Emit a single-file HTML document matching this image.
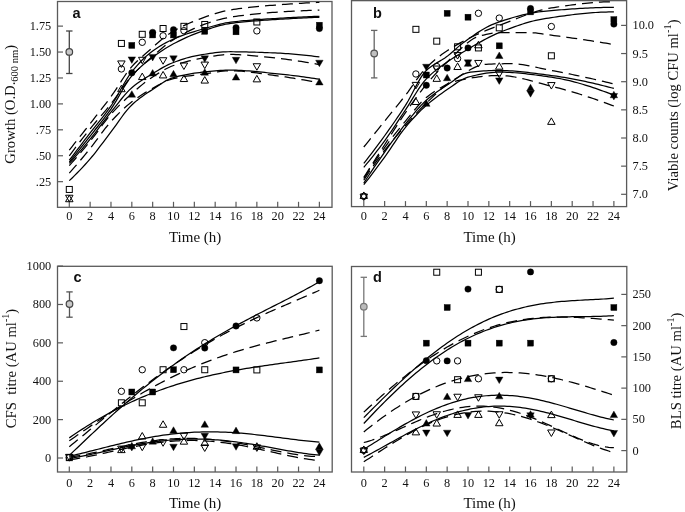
<!DOCTYPE html>
<html><head><meta charset="utf-8"><style>
html,body{margin:0;padding:0;background:#fff;}
body{width:685px;height:512px;overflow:hidden;}
svg{display:block;will-change:transform;}
.tk{font-family:"Liberation Serif",serif;font-size:12.3px;fill:#111;}
.ttl{font-family:"Liberation Serif",serif;font-size:15px;fill:#111;}
.pl{font-family:"Liberation Sans",sans-serif;font-size:14.5px;font-weight:bold;fill:#111;}
</style></head><body>
<svg width="685" height="512" viewBox="0 0 685 512">
<rect x="57.5" y="1.5" width="274.50" height="205.80" fill="none" stroke="#5a5a5a" stroke-width="1.3"/>
<line x1="69.30" y1="207.3" x2="69.30" y2="201.8" stroke="#5a5a5a" stroke-width="1.2"/>
<text x="69.30" y="220" class="tk" text-anchor="middle">0</text>
<line x1="90.14" y1="207.3" x2="90.14" y2="201.8" stroke="#5a5a5a" stroke-width="1.2"/>
<text x="90.14" y="220" class="tk" text-anchor="middle">2</text>
<line x1="110.98" y1="207.3" x2="110.98" y2="201.8" stroke="#5a5a5a" stroke-width="1.2"/>
<text x="110.98" y="220" class="tk" text-anchor="middle">4</text>
<line x1="131.82" y1="207.3" x2="131.82" y2="201.8" stroke="#5a5a5a" stroke-width="1.2"/>
<text x="131.82" y="220" class="tk" text-anchor="middle">6</text>
<line x1="152.66" y1="207.3" x2="152.66" y2="201.8" stroke="#5a5a5a" stroke-width="1.2"/>
<text x="152.66" y="220" class="tk" text-anchor="middle">8</text>
<line x1="173.50" y1="207.3" x2="173.50" y2="201.8" stroke="#5a5a5a" stroke-width="1.2"/>
<text x="173.50" y="220" class="tk" text-anchor="middle">10</text>
<line x1="194.34" y1="207.3" x2="194.34" y2="201.8" stroke="#5a5a5a" stroke-width="1.2"/>
<text x="194.34" y="220" class="tk" text-anchor="middle">12</text>
<line x1="215.18" y1="207.3" x2="215.18" y2="201.8" stroke="#5a5a5a" stroke-width="1.2"/>
<text x="215.18" y="220" class="tk" text-anchor="middle">14</text>
<line x1="236.02" y1="207.3" x2="236.02" y2="201.8" stroke="#5a5a5a" stroke-width="1.2"/>
<text x="236.02" y="220" class="tk" text-anchor="middle">16</text>
<line x1="256.86" y1="207.3" x2="256.86" y2="201.8" stroke="#5a5a5a" stroke-width="1.2"/>
<text x="256.86" y="220" class="tk" text-anchor="middle">18</text>
<line x1="277.70" y1="207.3" x2="277.70" y2="201.8" stroke="#5a5a5a" stroke-width="1.2"/>
<text x="277.70" y="220" class="tk" text-anchor="middle">20</text>
<line x1="298.54" y1="207.3" x2="298.54" y2="201.8" stroke="#5a5a5a" stroke-width="1.2"/>
<text x="298.54" y="220" class="tk" text-anchor="middle">22</text>
<line x1="319.38" y1="207.3" x2="319.38" y2="201.8" stroke="#5a5a5a" stroke-width="1.2"/>
<text x="319.38" y="220" class="tk" text-anchor="middle">24</text>
<line x1="57.5" y1="181.67" x2="63.0" y2="181.67" stroke="#5a5a5a" stroke-width="1.2"/>
<text x="51.2" y="185.67" class="tk" text-anchor="end">.25</text>
<line x1="57.5" y1="155.75" x2="63.0" y2="155.75" stroke="#5a5a5a" stroke-width="1.2"/>
<text x="51.2" y="159.75" class="tk" text-anchor="end">.50</text>
<line x1="57.5" y1="129.82" x2="63.0" y2="129.82" stroke="#5a5a5a" stroke-width="1.2"/>
<text x="51.2" y="133.82" class="tk" text-anchor="end">.75</text>
<line x1="57.5" y1="103.90" x2="63.0" y2="103.90" stroke="#5a5a5a" stroke-width="1.2"/>
<text x="51.2" y="107.90" class="tk" text-anchor="end">1.00</text>
<line x1="57.5" y1="77.97" x2="63.0" y2="77.97" stroke="#5a5a5a" stroke-width="1.2"/>
<text x="51.2" y="81.97" class="tk" text-anchor="end">1.25</text>
<line x1="57.5" y1="52.05" x2="63.0" y2="52.05" stroke="#5a5a5a" stroke-width="1.2"/>
<text x="51.2" y="56.05" class="tk" text-anchor="end">1.50</text>
<line x1="57.5" y1="26.12" x2="63.0" y2="26.12" stroke="#5a5a5a" stroke-width="1.2"/>
<text x="51.2" y="30.12" class="tk" text-anchor="end">1.75</text>
<text x="195.14" y="241.8" class="ttl" text-anchor="middle">Time (h)</text>
<rect x="351.5" y="0.65" width="275.10" height="205.95" fill="none" stroke="#5a5a5a" stroke-width="1.3"/>
<line x1="363.80" y1="206.6" x2="363.80" y2="201.1" stroke="#5a5a5a" stroke-width="1.2"/>
<text x="363.80" y="220" class="tk" text-anchor="middle">0</text>
<line x1="384.64" y1="206.6" x2="384.64" y2="201.1" stroke="#5a5a5a" stroke-width="1.2"/>
<text x="384.64" y="220" class="tk" text-anchor="middle">2</text>
<line x1="405.48" y1="206.6" x2="405.48" y2="201.1" stroke="#5a5a5a" stroke-width="1.2"/>
<text x="405.48" y="220" class="tk" text-anchor="middle">4</text>
<line x1="426.32" y1="206.6" x2="426.32" y2="201.1" stroke="#5a5a5a" stroke-width="1.2"/>
<text x="426.32" y="220" class="tk" text-anchor="middle">6</text>
<line x1="447.16" y1="206.6" x2="447.16" y2="201.1" stroke="#5a5a5a" stroke-width="1.2"/>
<text x="447.16" y="220" class="tk" text-anchor="middle">8</text>
<line x1="468.00" y1="206.6" x2="468.00" y2="201.1" stroke="#5a5a5a" stroke-width="1.2"/>
<text x="468.00" y="220" class="tk" text-anchor="middle">10</text>
<line x1="488.84" y1="206.6" x2="488.84" y2="201.1" stroke="#5a5a5a" stroke-width="1.2"/>
<text x="488.84" y="220" class="tk" text-anchor="middle">12</text>
<line x1="509.68" y1="206.6" x2="509.68" y2="201.1" stroke="#5a5a5a" stroke-width="1.2"/>
<text x="509.68" y="220" class="tk" text-anchor="middle">14</text>
<line x1="530.52" y1="206.6" x2="530.52" y2="201.1" stroke="#5a5a5a" stroke-width="1.2"/>
<text x="530.52" y="220" class="tk" text-anchor="middle">16</text>
<line x1="551.36" y1="206.6" x2="551.36" y2="201.1" stroke="#5a5a5a" stroke-width="1.2"/>
<text x="551.36" y="220" class="tk" text-anchor="middle">18</text>
<line x1="572.20" y1="206.6" x2="572.20" y2="201.1" stroke="#5a5a5a" stroke-width="1.2"/>
<text x="572.20" y="220" class="tk" text-anchor="middle">20</text>
<line x1="593.04" y1="206.6" x2="593.04" y2="201.1" stroke="#5a5a5a" stroke-width="1.2"/>
<text x="593.04" y="220" class="tk" text-anchor="middle">22</text>
<line x1="613.88" y1="206.6" x2="613.88" y2="201.1" stroke="#5a5a5a" stroke-width="1.2"/>
<text x="613.88" y="220" class="tk" text-anchor="middle">24</text>
<line x1="626.6" y1="194.30" x2="621.1" y2="194.30" stroke="#5a5a5a" stroke-width="1.2"/>
<text x="632.5" y="198.30" class="tk" text-anchor="start">7.0</text>
<line x1="626.6" y1="166.15" x2="621.1" y2="166.15" stroke="#5a5a5a" stroke-width="1.2"/>
<text x="632.5" y="170.15" class="tk" text-anchor="start">7.5</text>
<line x1="626.6" y1="138.00" x2="621.1" y2="138.00" stroke="#5a5a5a" stroke-width="1.2"/>
<text x="632.5" y="142.00" class="tk" text-anchor="start">8.0</text>
<line x1="626.6" y1="109.85" x2="621.1" y2="109.85" stroke="#5a5a5a" stroke-width="1.2"/>
<text x="632.5" y="113.85" class="tk" text-anchor="start">8.5</text>
<line x1="626.6" y1="81.70" x2="621.1" y2="81.70" stroke="#5a5a5a" stroke-width="1.2"/>
<text x="632.5" y="85.70" class="tk" text-anchor="start">9.0</text>
<line x1="626.6" y1="53.55" x2="621.1" y2="53.55" stroke="#5a5a5a" stroke-width="1.2"/>
<text x="632.5" y="57.55" class="tk" text-anchor="start">9.5</text>
<line x1="626.6" y1="25.40" x2="621.1" y2="25.40" stroke="#5a5a5a" stroke-width="1.2"/>
<text x="632.5" y="29.40" class="tk" text-anchor="start">10.0</text>
<text x="489.64" y="241.8" class="ttl" text-anchor="middle">Time (h)</text>
<rect x="57.5" y="266.3" width="274.70" height="205.70" fill="none" stroke="#5a5a5a" stroke-width="1.3"/>
<line x1="69.30" y1="472.0" x2="69.30" y2="466.5" stroke="#5a5a5a" stroke-width="1.2"/>
<text x="69.30" y="487.3" class="tk" text-anchor="middle">0</text>
<line x1="90.14" y1="472.0" x2="90.14" y2="466.5" stroke="#5a5a5a" stroke-width="1.2"/>
<text x="90.14" y="487.3" class="tk" text-anchor="middle">2</text>
<line x1="110.98" y1="472.0" x2="110.98" y2="466.5" stroke="#5a5a5a" stroke-width="1.2"/>
<text x="110.98" y="487.3" class="tk" text-anchor="middle">4</text>
<line x1="131.82" y1="472.0" x2="131.82" y2="466.5" stroke="#5a5a5a" stroke-width="1.2"/>
<text x="131.82" y="487.3" class="tk" text-anchor="middle">6</text>
<line x1="152.66" y1="472.0" x2="152.66" y2="466.5" stroke="#5a5a5a" stroke-width="1.2"/>
<text x="152.66" y="487.3" class="tk" text-anchor="middle">8</text>
<line x1="173.50" y1="472.0" x2="173.50" y2="466.5" stroke="#5a5a5a" stroke-width="1.2"/>
<text x="173.50" y="487.3" class="tk" text-anchor="middle">10</text>
<line x1="194.34" y1="472.0" x2="194.34" y2="466.5" stroke="#5a5a5a" stroke-width="1.2"/>
<text x="194.34" y="487.3" class="tk" text-anchor="middle">12</text>
<line x1="215.18" y1="472.0" x2="215.18" y2="466.5" stroke="#5a5a5a" stroke-width="1.2"/>
<text x="215.18" y="487.3" class="tk" text-anchor="middle">14</text>
<line x1="236.02" y1="472.0" x2="236.02" y2="466.5" stroke="#5a5a5a" stroke-width="1.2"/>
<text x="236.02" y="487.3" class="tk" text-anchor="middle">16</text>
<line x1="256.86" y1="472.0" x2="256.86" y2="466.5" stroke="#5a5a5a" stroke-width="1.2"/>
<text x="256.86" y="487.3" class="tk" text-anchor="middle">18</text>
<line x1="277.70" y1="472.0" x2="277.70" y2="466.5" stroke="#5a5a5a" stroke-width="1.2"/>
<text x="277.70" y="487.3" class="tk" text-anchor="middle">20</text>
<line x1="298.54" y1="472.0" x2="298.54" y2="466.5" stroke="#5a5a5a" stroke-width="1.2"/>
<text x="298.54" y="487.3" class="tk" text-anchor="middle">22</text>
<line x1="319.38" y1="472.0" x2="319.38" y2="466.5" stroke="#5a5a5a" stroke-width="1.2"/>
<text x="319.38" y="487.3" class="tk" text-anchor="middle">24</text>
<line x1="57.5" y1="458.00" x2="63.0" y2="458.00" stroke="#5a5a5a" stroke-width="1.2"/>
<text x="51.2" y="462.00" class="tk" text-anchor="end">0</text>
<line x1="57.5" y1="419.62" x2="63.0" y2="419.62" stroke="#5a5a5a" stroke-width="1.2"/>
<text x="51.2" y="423.62" class="tk" text-anchor="end">200</text>
<line x1="57.5" y1="381.24" x2="63.0" y2="381.24" stroke="#5a5a5a" stroke-width="1.2"/>
<text x="51.2" y="385.24" class="tk" text-anchor="end">400</text>
<line x1="57.5" y1="342.86" x2="63.0" y2="342.86" stroke="#5a5a5a" stroke-width="1.2"/>
<text x="51.2" y="346.86" class="tk" text-anchor="end">600</text>
<line x1="57.5" y1="304.48" x2="63.0" y2="304.48" stroke="#5a5a5a" stroke-width="1.2"/>
<text x="51.2" y="308.48" class="tk" text-anchor="end">800</text>
<line x1="57.5" y1="266.10" x2="63.0" y2="266.10" stroke="#5a5a5a" stroke-width="1.2"/>
<text x="51.2" y="270.10" class="tk" text-anchor="end">1000</text>
<text x="195.14" y="507.5" class="ttl" text-anchor="middle">Time (h)</text>
<rect x="351.5" y="266.5" width="275.30" height="205.50" fill="none" stroke="#5a5a5a" stroke-width="1.3"/>
<line x1="363.80" y1="472.0" x2="363.80" y2="466.5" stroke="#5a5a5a" stroke-width="1.2"/>
<text x="363.80" y="487.3" class="tk" text-anchor="middle">0</text>
<line x1="384.64" y1="472.0" x2="384.64" y2="466.5" stroke="#5a5a5a" stroke-width="1.2"/>
<text x="384.64" y="487.3" class="tk" text-anchor="middle">2</text>
<line x1="405.48" y1="472.0" x2="405.48" y2="466.5" stroke="#5a5a5a" stroke-width="1.2"/>
<text x="405.48" y="487.3" class="tk" text-anchor="middle">4</text>
<line x1="426.32" y1="472.0" x2="426.32" y2="466.5" stroke="#5a5a5a" stroke-width="1.2"/>
<text x="426.32" y="487.3" class="tk" text-anchor="middle">6</text>
<line x1="447.16" y1="472.0" x2="447.16" y2="466.5" stroke="#5a5a5a" stroke-width="1.2"/>
<text x="447.16" y="487.3" class="tk" text-anchor="middle">8</text>
<line x1="468.00" y1="472.0" x2="468.00" y2="466.5" stroke="#5a5a5a" stroke-width="1.2"/>
<text x="468.00" y="487.3" class="tk" text-anchor="middle">10</text>
<line x1="488.84" y1="472.0" x2="488.84" y2="466.5" stroke="#5a5a5a" stroke-width="1.2"/>
<text x="488.84" y="487.3" class="tk" text-anchor="middle">12</text>
<line x1="509.68" y1="472.0" x2="509.68" y2="466.5" stroke="#5a5a5a" stroke-width="1.2"/>
<text x="509.68" y="487.3" class="tk" text-anchor="middle">14</text>
<line x1="530.52" y1="472.0" x2="530.52" y2="466.5" stroke="#5a5a5a" stroke-width="1.2"/>
<text x="530.52" y="487.3" class="tk" text-anchor="middle">16</text>
<line x1="551.36" y1="472.0" x2="551.36" y2="466.5" stroke="#5a5a5a" stroke-width="1.2"/>
<text x="551.36" y="487.3" class="tk" text-anchor="middle">18</text>
<line x1="572.20" y1="472.0" x2="572.20" y2="466.5" stroke="#5a5a5a" stroke-width="1.2"/>
<text x="572.20" y="487.3" class="tk" text-anchor="middle">20</text>
<line x1="593.04" y1="472.0" x2="593.04" y2="466.5" stroke="#5a5a5a" stroke-width="1.2"/>
<text x="593.04" y="487.3" class="tk" text-anchor="middle">22</text>
<line x1="613.88" y1="472.0" x2="613.88" y2="466.5" stroke="#5a5a5a" stroke-width="1.2"/>
<text x="613.88" y="487.3" class="tk" text-anchor="middle">24</text>
<line x1="626.8" y1="450.60" x2="621.3" y2="450.60" stroke="#5a5a5a" stroke-width="1.2"/>
<text x="632.5" y="454.60" class="tk" text-anchor="start">0</text>
<line x1="626.8" y1="419.36" x2="621.3" y2="419.36" stroke="#5a5a5a" stroke-width="1.2"/>
<text x="632.5" y="423.36" class="tk" text-anchor="start">50</text>
<line x1="626.8" y1="388.12" x2="621.3" y2="388.12" stroke="#5a5a5a" stroke-width="1.2"/>
<text x="632.5" y="392.12" class="tk" text-anchor="start">100</text>
<line x1="626.8" y1="356.88" x2="621.3" y2="356.88" stroke="#5a5a5a" stroke-width="1.2"/>
<text x="632.5" y="360.88" class="tk" text-anchor="start">150</text>
<line x1="626.8" y1="325.64" x2="621.3" y2="325.64" stroke="#5a5a5a" stroke-width="1.2"/>
<text x="632.5" y="329.64" class="tk" text-anchor="start">200</text>
<line x1="626.8" y1="294.40" x2="621.3" y2="294.40" stroke="#5a5a5a" stroke-width="1.2"/>
<text x="632.5" y="298.40" class="tk" text-anchor="start">250</text>
<text x="489.64" y="507.5" class="ttl" text-anchor="middle">Time (h)</text>
<text transform="translate(14.8,104.3) rotate(-90)" class="ttl" text-anchor="middle" style="font-size:14.7px">Growth (O.D.<tspan font-size="10.5" dy="3.5">600 nm</tspan><tspan dy="-3.5">)</tspan></text>
<text transform="translate(678.4,105.3) rotate(-90)" class="ttl" text-anchor="middle" style="font-size:14.6px">Viable counts (log CFU ml<tspan font-size="10.5" dy="-7">-1</tspan><tspan dy="7">)</tspan></text>
<text transform="translate(16.3,368.5) rotate(-90)" class="ttl" text-anchor="middle" style="font-size:14.7px">CFS&#160; titre (AU ml<tspan font-size="10" dy="-7">-1</tspan><tspan dy="7">)</tspan></text>
<text transform="translate(680.9,370.9) rotate(-90)" class="ttl" text-anchor="middle" style="font-size:14.7px">BLS titre (AU ml<tspan font-size="10" dy="-7">-1</tspan><tspan dy="7">)</tspan></text>
<defs>
<clipPath id="ca"><rect x="57.5" y="1.5" width="274.5" height="205.8"/></clipPath>
<clipPath id="cb"><rect x="351.5" y="0.65" width="275.1" height="205.95"/></clipPath>
<clipPath id="cc"><rect x="57.5" y="266.3" width="274.7" height="205.7"/></clipPath>
<clipPath id="cd"><rect x="351.5" y="266.5" width="275.29999999999995" height="205.5"/></clipPath>
</defs>
<path d="M69.30,150.05 L71.91,146.77 L74.51,143.48 L77.11,140.19 L79.72,136.89 L82.33,133.58 L84.93,130.26 L87.53,126.94 L90.14,123.60 L92.75,120.28 L95.35,116.97 L97.95,113.66 L100.56,110.34 L103.16,106.99 L105.77,103.60 L108.38,100.16 L110.98,96.64 L113.58,92.95 L116.19,89.04 L118.79,85.01 L121.40,80.96 L124.00,77.00 L126.61,73.21 L129.22,69.70 L131.82,66.57 L134.43,63.79 L137.03,61.23 L139.63,58.83 L142.24,56.55 L144.84,54.31 L147.45,52.05 L150.06,49.74 L152.66,47.41 L155.26,45.08 L157.87,42.78 L160.47,40.53 L163.08,38.37 L165.69,36.32 L168.29,34.41 L170.89,32.67 L173.50,31.09 L176.10,29.60 L178.71,28.18 L181.31,26.85 L183.92,25.58 L186.52,24.39 L189.13,23.26 L191.74,22.18 L194.34,21.15 L196.94,20.13 L199.55,19.11 L202.15,18.12 L204.76,17.14 L207.37,16.19 L209.97,15.28 L212.57,14.41 L215.18,13.58 L217.78,12.81 L220.39,12.09 L223.00,11.43 L225.60,10.84 L228.20,10.32 L230.81,9.88 L233.42,9.47 L236.02,9.09 L238.62,8.72 L241.23,8.37 L243.83,8.04 L246.44,7.73 L249.05,7.43 L251.65,7.15 L254.25,6.88 L256.86,6.62 L259.46,6.37 L262.07,6.14 L264.68,5.91 L267.28,5.69 L269.88,5.48 L272.49,5.27 L275.09,5.07 L277.70,4.87 L280.31,4.67 L282.91,4.48 L285.51,4.29 L288.12,4.10 L290.73,3.92 L293.33,3.75 L295.94,3.58 L298.54,3.42 L301.14,3.26 L303.75,3.11 L306.36,2.97 L308.96,2.84 L311.56,2.71 L314.17,2.59 L316.77,2.48 L319.38,2.38" fill="none" stroke="#000" stroke-width="1.25" stroke-dasharray="11 6" clip-path="url(#ca)"/>
<path d="M69.30,155.75 L71.91,152.27 L74.51,148.81 L77.11,145.39 L79.72,142.00 L82.33,138.65 L84.93,135.33 L87.53,132.04 L90.14,128.79 L92.75,125.60 L95.35,122.49 L97.95,119.44 L100.56,116.40 L103.16,113.36 L105.77,110.28 L108.38,107.14 L110.98,103.90 L113.58,100.49 L116.19,96.90 L118.79,93.21 L121.40,89.50 L124.00,85.83 L126.61,82.29 L129.22,78.96 L131.82,75.90 L134.43,73.09 L137.03,70.41 L139.63,67.86 L142.24,65.41 L144.84,63.04 L147.45,60.73 L150.06,58.45 L152.66,56.20 L155.26,53.94 L157.87,51.67 L160.47,49.43 L163.08,47.25 L165.69,45.15 L168.29,43.15 L170.89,41.30 L173.50,39.61 L176.10,38.03 L178.71,36.50 L181.31,35.02 L183.92,33.59 L186.52,32.21 L189.13,30.88 L191.74,29.61 L194.34,28.40 L196.94,27.25 L199.55,26.15 L202.15,25.12 L204.76,24.16 L207.37,23.25 L209.97,22.39 L212.57,21.56 L215.18,20.76 L217.78,20.01 L220.39,19.31 L223.00,18.66 L225.60,18.09 L228.20,17.58 L230.81,17.14 L233.42,16.74 L236.02,16.35 L238.62,15.98 L241.23,15.62 L243.83,15.29 L246.44,14.96 L249.05,14.66 L251.65,14.36 L254.25,14.08 L256.86,13.82 L259.46,13.57 L262.07,13.33 L264.68,13.10 L267.28,12.88 L269.88,12.68 L272.49,12.48 L275.09,12.30 L277.70,12.13 L280.31,11.96 L282.91,11.79 L285.51,11.63 L288.12,11.47 L290.73,11.32 L293.33,11.17 L295.94,11.03 L298.54,10.90 L301.14,10.77 L303.75,10.66 L306.36,10.55 L308.96,10.45 L311.56,10.36 L314.17,10.28 L316.77,10.21 L319.38,10.16" fill="none" stroke="#000" stroke-width="1.25" stroke-dasharray="11 6" clip-path="url(#ca)"/>
<path d="M69.30,160.21 L71.91,156.78 L74.51,153.36 L77.11,149.95 L79.72,146.53 L82.33,143.13 L84.93,139.72 L87.53,136.33 L90.14,132.94 L92.75,129.59 L95.35,126.32 L97.95,123.08 L100.56,119.84 L103.16,116.54 L105.77,113.16 L108.38,109.65 L110.98,105.97 L113.58,101.97 L116.19,97.60 L118.79,93.00 L121.40,88.32 L124.00,83.71 L126.61,79.32 L129.22,75.28 L131.82,71.75 L134.43,68.60 L137.03,65.58 L139.63,62.73 L142.24,60.03 L144.84,57.51 L147.45,55.15 L150.06,52.99 L152.66,51.01 L155.26,49.19 L157.87,47.46 L160.47,45.84 L163.08,44.31 L165.69,42.87 L168.29,41.52 L170.89,40.25 L173.50,39.05 L176.10,37.94 L178.71,36.88 L181.31,35.88 L183.92,34.94 L186.52,34.03 L189.13,33.17 L191.74,32.34 L194.34,31.53 L196.94,30.76 L199.55,30.00 L202.15,29.25 L204.76,28.51 L207.37,27.76 L209.97,27.00 L212.57,26.24 L215.18,25.50 L217.78,24.78 L220.39,24.11 L223.00,23.50 L225.60,22.96 L228.20,22.51 L230.81,22.15 L233.42,21.83 L236.02,21.53 L238.62,21.25 L241.23,20.98 L243.83,20.73 L246.44,20.50 L249.05,20.28 L251.65,20.07 L254.25,19.87 L256.86,19.68 L259.46,19.50 L262.07,19.32 L264.68,19.15 L267.28,18.99 L269.88,18.83 L272.49,18.67 L275.09,18.51 L277.70,18.35 L280.31,18.19 L282.91,18.03 L285.51,17.88 L288.12,17.73 L290.73,17.58 L293.33,17.44 L295.94,17.30 L298.54,17.17 L301.14,17.04 L303.75,16.92 L306.36,16.80 L308.96,16.68 L311.56,16.57 L314.17,16.47 L316.77,16.37 L319.38,16.27" fill="none" stroke="#000" stroke-width="1.25" clip-path="url(#ca)"/>
<path d="M69.30,161.97 L71.91,158.79 L74.51,155.59 L77.11,152.37 L79.72,149.14 L82.33,145.89 L84.93,142.62 L87.53,139.34 L90.14,136.05 L92.75,132.77 L95.35,129.51 L97.95,126.26 L100.56,122.98 L103.16,119.65 L105.77,116.24 L108.38,112.73 L110.98,109.08 L113.58,105.14 L116.19,100.84 L118.79,96.33 L121.40,91.76 L124.00,87.29 L126.61,83.05 L129.22,79.21 L131.82,75.90 L134.43,73.02 L137.03,70.35 L139.63,67.86 L142.24,65.52 L144.84,63.31 L147.45,61.21 L150.06,59.19 L152.66,57.23 L155.26,55.33 L157.87,53.48 L160.47,51.70 L163.08,49.98 L165.69,48.34 L168.29,46.76 L170.89,45.25 L173.50,43.81 L176.10,42.45 L178.71,41.14 L181.31,39.86 L183.92,38.62 L186.52,37.43 L189.13,36.27 L191.74,35.16 L194.34,34.09 L196.94,33.06 L199.55,32.08 L202.15,31.15 L204.76,30.27 L207.37,29.42 L209.97,28.56 L212.57,27.73 L215.18,26.92 L217.78,26.16 L220.39,25.45 L223.00,24.81 L225.60,24.24 L228.20,23.77 L230.81,23.39 L233.42,23.05 L236.02,22.73 L238.62,22.43 L241.23,22.15 L243.83,21.88 L246.44,21.63 L249.05,21.40 L251.65,21.17 L254.25,20.96 L256.86,20.76 L259.46,20.57 L262.07,20.39 L264.68,20.21 L267.28,20.04 L269.88,19.88 L272.49,19.71 L275.09,19.55 L277.70,19.38 L280.31,19.22 L282.91,19.06 L285.51,18.91 L288.12,18.76 L290.73,18.61 L293.33,18.46 L295.94,18.33 L298.54,18.19 L301.14,18.06 L303.75,17.94 L306.36,17.82 L308.96,17.70 L311.56,17.60 L314.17,17.49 L316.77,17.40 L319.38,17.31" fill="none" stroke="#000" stroke-width="1.25" clip-path="url(#ca)"/>
<path d="M69.30,163.42 L71.91,160.54 L74.51,157.61 L77.11,154.63 L79.72,151.62 L82.33,148.56 L84.93,145.47 L87.53,142.33 L90.14,139.16 L92.75,135.91 L95.35,132.56 L97.95,129.14 L100.56,125.69 L103.16,122.24 L105.77,118.82 L108.38,115.46 L110.98,112.20 L113.58,108.93 L116.19,105.60 L118.79,102.27 L121.40,98.99 L124.00,95.83 L126.61,92.86 L129.22,90.14 L131.82,87.72 L134.43,85.58 L137.03,83.59 L139.63,81.74 L142.24,80.01 L144.84,78.35 L147.45,76.75 L150.06,75.18 L152.66,73.62 L155.26,72.04 L157.87,70.46 L160.47,68.90 L163.08,67.41 L165.69,65.99 L168.29,64.68 L170.89,63.51 L173.50,62.48 L176.10,61.49 L178.71,60.55 L181.31,59.65 L183.92,58.80 L186.52,58.01 L189.13,57.29 L191.74,56.64 L194.34,56.07 L196.94,55.58 L199.55,55.13 L202.15,54.68 L204.76,54.25 L207.37,53.83 L209.97,53.43 L212.57,53.06 L215.18,52.72 L217.78,52.42 L220.39,52.17 L223.00,51.97 L225.60,51.83 L228.20,51.75 L230.81,51.74 L233.42,51.75 L236.02,51.77 L238.62,51.80 L241.23,51.84 L243.83,51.89 L246.44,51.95 L249.05,52.02 L251.65,52.09 L254.25,52.17 L256.86,52.25 L259.46,52.34 L262.07,52.44 L264.68,52.54 L267.28,52.65 L269.88,52.75 L272.49,52.86 L275.09,52.97 L277.70,53.09 L280.31,53.21 L282.91,53.36 L285.51,53.52 L288.12,53.70 L290.73,53.90 L293.33,54.12 L295.94,54.35 L298.54,54.60 L301.14,54.86 L303.75,55.13 L306.36,55.41 L308.96,55.70 L311.56,55.99 L314.17,56.30 L316.77,56.61 L319.38,56.92" fill="none" stroke="#000" stroke-width="1.25" clip-path="url(#ca)"/>
<path d="M69.30,165.60 L71.91,162.70 L74.51,159.75 L77.11,156.76 L79.72,153.73 L82.33,150.66 L84.93,147.56 L87.53,144.41 L90.14,141.23 L92.75,137.94 L95.35,134.52 L97.95,131.01 L100.56,127.48 L103.16,123.99 L105.77,120.58 L108.38,117.32 L110.98,114.27 L113.58,111.39 L116.19,108.60 L118.79,105.89 L121.40,103.27 L124.00,100.73 L126.61,98.26 L129.22,95.86 L131.82,93.53 L134.43,91.24 L137.03,88.98 L139.63,86.77 L142.24,84.62 L144.84,82.55 L147.45,80.57 L150.06,78.69 L152.66,76.94 L155.26,75.25 L157.87,73.60 L160.47,71.99 L163.08,70.46 L165.69,69.02 L168.29,67.71 L170.89,66.54 L173.50,65.53 L176.10,64.64 L178.71,63.81 L181.31,63.02 L183.92,62.29 L186.52,61.59 L189.13,60.94 L191.74,60.33 L194.34,59.75 L196.94,59.21 L199.55,58.69 L202.15,58.21 L204.76,57.75 L207.37,57.30 L209.97,56.82 L212.57,56.35 L215.18,55.90 L217.78,55.48 L220.39,55.11 L223.00,54.80 L225.60,54.58 L228.20,54.46 L230.81,54.44 L233.42,54.47 L236.02,54.54 L238.62,54.64 L241.23,54.77 L243.83,54.92 L246.44,55.11 L249.05,55.31 L251.65,55.53 L254.25,55.77 L256.86,56.02 L259.46,56.29 L262.07,56.56 L264.68,56.85 L267.28,57.13 L269.88,57.42 L272.49,57.71 L275.09,57.99 L277.70,58.27 L280.31,58.56 L282.91,58.86 L285.51,59.18 L288.12,59.52 L290.73,59.87 L293.33,60.24 L295.94,60.62 L298.54,61.02 L301.14,61.43 L303.75,61.85 L306.36,62.29 L308.96,62.73 L311.56,63.18 L314.17,63.65 L316.77,64.12 L319.38,64.60" fill="none" stroke="#000" stroke-width="1.25" stroke-dasharray="11 6" clip-path="url(#ca)"/>
<path d="M69.30,180.64 L71.91,178.20 L74.51,175.67 L77.11,173.06 L79.72,170.36 L82.33,167.59 L84.93,164.75 L87.53,161.84 L90.14,158.86 L92.75,155.77 L95.35,152.52 L97.95,149.17 L100.56,145.74 L103.16,142.26 L105.77,138.77 L108.38,135.31 L110.98,131.90 L113.58,128.43 L116.19,124.81 L118.79,121.14 L121.40,117.50 L124.00,113.97 L126.61,110.64 L129.22,107.60 L131.82,104.94 L134.43,102.58 L137.03,100.39 L139.63,98.35 L142.24,96.43 L144.84,94.60 L147.45,92.85 L150.06,91.14 L152.66,89.46 L155.26,87.79 L157.87,86.06 L160.47,84.28 L163.08,82.53 L165.69,80.90 L168.29,79.48 L170.89,78.35 L173.50,77.55 L176.10,76.84 L178.71,76.19 L181.31,75.58 L183.92,75.03 L186.52,74.52 L189.13,74.05 L191.74,73.63 L194.34,73.24 L196.94,72.88 L199.55,72.55 L202.15,72.24 L204.76,71.96 L207.37,71.69 L209.97,71.41 L212.57,71.14 L215.18,70.89 L217.78,70.66 L220.39,70.46 L223.00,70.29 L225.60,70.17 L228.20,70.11 L230.81,70.10 L233.42,70.13 L236.02,70.20 L238.62,70.30 L241.23,70.43 L243.83,70.58 L246.44,70.76 L249.05,70.97 L251.65,71.19 L254.25,71.42 L256.86,71.67 L259.46,71.93 L262.07,72.20 L264.68,72.47 L267.28,72.75 L269.88,73.03 L272.49,73.30 L275.09,73.57 L277.70,73.83 L280.31,74.09 L282.91,74.36 L285.51,74.65 L288.12,74.94 L290.73,75.25 L293.33,75.57 L295.94,75.90 L298.54,76.23 L301.14,76.58 L303.75,76.94 L306.36,77.30 L308.96,77.67 L311.56,78.05 L314.17,78.43 L316.77,78.82 L319.38,79.22" fill="none" stroke="#000" stroke-width="1.25" clip-path="url(#ca)"/>
<path d="M69.30,173.07 L71.91,170.13 L74.51,167.14 L77.11,164.13 L79.72,161.07 L82.33,157.98 L84.93,154.85 L87.53,151.69 L90.14,148.49 L92.75,145.18 L95.35,141.73 L97.95,138.19 L100.56,134.64 L103.16,131.14 L105.77,127.74 L108.38,124.51 L110.98,121.53 L113.58,118.72 L116.19,116.00 L118.79,113.37 L121.40,110.83 L124.00,108.40 L126.61,106.09 L129.22,103.89 L131.82,101.83 L134.43,99.87 L137.03,98.01 L139.63,96.22 L142.24,94.52 L144.84,92.89 L147.45,91.32 L150.06,89.80 L152.66,88.34 L155.26,86.88 L157.87,85.40 L160.47,83.95 L163.08,82.57 L165.69,81.31 L168.29,80.21 L170.89,79.32 L173.50,78.66 L176.10,78.08 L178.71,77.55 L181.31,77.07 L183.92,76.64 L186.52,76.24 L189.13,75.87 L191.74,75.51 L194.34,75.18 L196.94,74.85 L199.55,74.52 L202.15,74.18 L204.76,73.83 L207.37,73.44 L209.97,73.03 L212.57,72.59 L215.18,72.17 L217.78,71.76 L220.39,71.40 L223.00,71.09 L225.60,70.87 L228.20,70.74 L230.81,70.72 L233.42,70.77 L236.02,70.86 L238.62,71.01 L241.23,71.19 L243.83,71.41 L246.44,71.66 L249.05,71.95 L251.65,72.26 L254.25,72.59 L256.86,72.93 L259.46,73.30 L262.07,73.67 L264.68,74.05 L267.28,74.43 L269.88,74.81 L272.49,75.18 L275.09,75.55 L277.70,75.90 L280.31,76.25 L282.91,76.62 L285.51,76.99 L288.12,77.38 L290.73,77.78 L293.33,78.19 L295.94,78.62 L298.54,79.05 L301.14,79.50 L303.75,79.95 L306.36,80.41 L308.96,80.88 L311.56,81.36 L314.17,81.85 L316.77,82.35 L319.38,82.85" fill="none" stroke="#000" stroke-width="1.25" stroke-dasharray="11 6" clip-path="url(#ca)"/>
<rect x="66.30" y="186.45" width="6.0" height="6.0" fill="none" stroke="#000" stroke-width="1.0"/>
<path d="M65.55,195.22 L73.05,195.22 L69.30,201.72 Z" fill="none" stroke="#000" stroke-width="1.0"/>
<path d="M65.55,201.72 L73.05,201.72 L69.30,195.22 Z" fill="none" stroke="#000" stroke-width="1.0"/>
<rect x="118.40" y="40.44" width="6.0" height="6.0" fill="none" stroke="#000" stroke-width="1.0"/>
<path d="M117.65,60.93 L125.15,60.93 L121.40,67.43 Z" fill="none" stroke="#000" stroke-width="1.0"/>
<circle cx="121.40" cy="68.95" r="3.2" fill="none" stroke="#000" stroke-width="1.0"/>
<path d="M117.65,91.70 L125.15,91.70 L121.40,85.20 Z" fill="none" stroke="#000" stroke-width="1.0"/>
<rect x="128.82" y="42.41" width="6.0" height="6.0" fill="#000" stroke="#000" stroke-width="0.4"/>
<path d="M128.07,56.89 L135.57,56.89 L131.82,63.39 Z" fill="#000" stroke="#000" stroke-width="0.4"/>
<circle cx="131.82" cy="72.79" r="3.2" fill="#000" stroke="#000" stroke-width="0.4"/>
<path d="M128.07,97.19 L135.57,97.19 L131.82,90.69 Z" fill="#000" stroke="#000" stroke-width="0.4"/>
<rect x="139.24" y="31.32" width="6.0" height="6.0" fill="none" stroke="#000" stroke-width="1.0"/>
<circle cx="142.24" cy="42.30" r="3.2" fill="none" stroke="#000" stroke-width="1.0"/>
<path d="M138.49,57.30 L145.99,57.30 L142.24,63.80 Z" fill="none" stroke="#000" stroke-width="1.0"/>
<path d="M138.49,79.57 L145.99,79.57 L142.24,73.07 Z" fill="none" stroke="#000" stroke-width="1.0"/>
<rect x="149.66" y="31.94" width="6.0" height="6.0" fill="#000" stroke="#000" stroke-width="0.4"/>
<circle cx="152.66" cy="32.35" r="3.2" fill="#000" stroke="#000" stroke-width="0.4"/>
<path d="M148.91,54.40 L156.41,54.40 L152.66,60.90 Z" fill="#000" stroke="#000" stroke-width="0.4"/>
<path d="M148.91,76.04 L156.41,76.04 L152.66,69.54 Z" fill="#000" stroke="#000" stroke-width="0.4"/>
<rect x="160.08" y="25.51" width="6.0" height="6.0" fill="none" stroke="#000" stroke-width="1.0"/>
<circle cx="163.08" cy="35.77" r="3.2" fill="none" stroke="#000" stroke-width="1.0"/>
<path d="M159.33,57.72 L166.83,57.72 L163.08,64.22 Z" fill="none" stroke="#000" stroke-width="1.0"/>
<path d="M159.33,77.91 L166.83,77.91 L163.08,71.41 Z" fill="none" stroke="#000" stroke-width="1.0"/>
<circle cx="173.50" cy="29.65" r="3.2" fill="#000" stroke="#000" stroke-width="0.4"/>
<rect x="170.50" y="31.94" width="6.0" height="6.0" fill="#000" stroke="#000" stroke-width="0.4"/>
<path d="M169.75,55.85 L177.25,55.85 L173.50,62.35 Z" fill="#000" stroke="#000" stroke-width="0.4"/>
<path d="M169.75,76.87 L177.25,76.87 L173.50,70.37 Z" fill="#000" stroke="#000" stroke-width="0.4"/>
<rect x="180.92" y="23.33" width="6.0" height="6.0" fill="none" stroke="#000" stroke-width="1.0"/>
<circle cx="183.92" cy="30.69" r="3.2" fill="none" stroke="#000" stroke-width="1.0"/>
<path d="M180.17,63.01 L187.67,63.01 L183.92,69.51 Z" fill="none" stroke="#000" stroke-width="1.0"/>
<path d="M180.17,81.54 L187.67,81.54 L183.92,75.04 Z" fill="none" stroke="#000" stroke-width="1.0"/>
<rect x="201.76" y="21.47" width="6.0" height="6.0" fill="none" stroke="#000" stroke-width="1.0"/>
<rect x="201.76" y="28.31" width="6.0" height="6.0" fill="#000" stroke="#000" stroke-width="0.4"/>
<path d="M201.01,55.85 L208.51,55.85 L204.76,62.35 Z" fill="#000" stroke="#000" stroke-width="0.4"/>
<path d="M201.01,62.07 L208.51,62.07 L204.76,68.57 Z" fill="none" stroke="#000" stroke-width="1.0"/>
<path d="M201.01,75.21 L208.51,75.21 L204.76,68.71 Z" fill="#000" stroke="#000" stroke-width="0.4"/>
<path d="M201.01,83.09 L208.51,83.09 L204.76,76.59 Z" fill="none" stroke="#000" stroke-width="1.0"/>
<circle cx="236.02" cy="27.68" r="3.2" fill="#000" stroke="#000" stroke-width="0.4"/>
<rect x="233.02" y="28.83" width="6.0" height="6.0" fill="#000" stroke="#000" stroke-width="0.4"/>
<path d="M232.27,57.30 L239.77,57.30 L236.02,63.80 Z" fill="#000" stroke="#000" stroke-width="0.4"/>
<path d="M232.27,80.08 L239.77,80.08 L236.02,73.58 Z" fill="#000" stroke="#000" stroke-width="0.4"/>
<rect x="253.86" y="18.98" width="6.0" height="6.0" fill="none" stroke="#000" stroke-width="1.0"/>
<circle cx="256.86" cy="30.90" r="3.2" fill="none" stroke="#000" stroke-width="1.0"/>
<path d="M253.11,63.73 L260.61,63.73 L256.86,70.23 Z" fill="none" stroke="#000" stroke-width="1.0"/>
<path d="M253.11,81.85 L260.61,81.85 L256.86,75.35 Z" fill="none" stroke="#000" stroke-width="1.0"/>
<rect x="316.38" y="22.19" width="6.0" height="6.0" fill="#000" stroke="#000" stroke-width="0.4"/>
<circle cx="319.38" cy="28.51" r="3.2" fill="#000" stroke="#000" stroke-width="0.4"/>
<path d="M315.63,60.21 L323.13,60.21 L319.38,66.71 Z" fill="#000" stroke="#000" stroke-width="0.4"/>
<path d="M315.63,84.96 L323.13,84.96 L319.38,78.46 Z" fill="#000" stroke="#000" stroke-width="0.4"/>
<path d="M363.80,147.01 L366.41,143.77 L369.01,140.53 L371.62,137.30 L374.22,134.06 L376.82,130.82 L379.43,127.58 L382.04,124.35 L384.64,121.11 L387.25,117.88 L389.85,114.67 L392.46,111.47 L395.06,108.26 L397.67,105.04 L400.27,101.80 L402.88,98.53 L405.48,95.21 L408.09,91.76 L410.69,88.13 L413.30,84.41 L415.90,80.70 L418.50,77.07 L421.11,73.63 L423.72,70.45 L426.32,67.62 L428.93,65.08 L431.53,62.68 L434.13,60.42 L436.74,58.27 L439.35,56.24 L441.95,54.32 L444.56,52.48 L447.16,50.73 L449.76,49.06 L452.37,47.44 L454.98,45.88 L457.58,44.38 L460.19,42.92 L462.79,41.51 L465.39,40.15 L468.00,38.83 L470.61,37.54 L473.21,36.28 L475.81,35.05 L478.42,33.85 L481.02,32.67 L483.63,31.54 L486.24,30.45 L488.84,29.40 L491.44,28.37 L494.05,27.36 L496.65,26.37 L499.26,25.40 L501.87,24.42 L504.47,23.42 L507.08,22.40 L509.68,21.36 L512.28,20.33 L514.89,19.29 L517.50,18.26 L520.10,17.24 L522.71,16.24 L525.31,15.26 L527.91,14.31 L530.52,13.40 L533.12,12.52 L535.73,11.69 L538.34,10.90 L540.94,10.18 L543.55,9.51 L546.15,8.92 L548.75,8.39 L551.36,7.95 L553.97,7.54 L556.57,7.14 L559.17,6.75 L561.78,6.36 L564.38,5.98 L566.99,5.61 L569.60,5.25 L572.20,4.90 L574.81,4.56 L577.41,4.24 L580.01,3.93 L582.62,3.64 L585.23,3.36 L587.83,3.10 L590.43,2.86 L593.04,2.64 L595.64,2.44 L598.25,2.27 L600.86,2.11 L603.46,1.99 L606.07,1.89 L608.67,1.81 L611.27,1.77 L613.88,1.75" fill="none" stroke="#000" stroke-width="1.25" stroke-dasharray="11 6" clip-path="url(#cb)"/>
<path d="M363.80,163.34 L366.41,160.04 L369.01,156.70 L371.62,153.31 L374.22,149.88 L376.82,146.41 L379.43,142.90 L382.04,139.34 L384.64,135.75 L387.25,132.12 L389.85,128.45 L392.46,124.75 L395.06,120.99 L397.67,117.18 L400.27,113.31 L402.88,109.37 L405.48,105.35 L408.09,101.01 L410.69,96.26 L413.30,91.30 L415.90,86.34 L418.50,81.57 L421.11,77.19 L423.72,73.42 L426.32,70.44 L428.93,68.13 L431.53,66.16 L434.13,64.43 L436.74,62.86 L439.35,61.36 L441.95,59.83 L444.56,58.20 L447.16,56.37 L449.76,54.29 L452.37,52.05 L454.98,49.72 L457.58,47.39 L460.19,45.14 L462.79,43.06 L465.39,41.17 L468.00,39.31 L470.61,37.46 L473.21,35.64 L475.81,33.86 L478.42,32.14 L481.02,30.50 L483.63,28.94 L486.24,27.47 L488.84,26.12 L491.44,24.90 L494.05,23.82 L496.65,22.87 L499.26,21.95 L501.87,21.06 L504.47,20.19 L507.08,19.35 L509.68,18.54 L512.28,17.76 L514.89,17.01 L517.50,16.29 L520.10,15.61 L522.71,14.97 L525.31,14.37 L527.91,13.81 L530.52,13.29 L533.12,12.81 L535.73,12.38 L538.34,12.00 L540.94,11.66 L543.55,11.38 L546.15,11.13 L548.75,10.88 L551.36,10.65 L553.97,10.41 L556.57,10.19 L559.17,9.97 L561.78,9.75 L564.38,9.54 L566.99,9.34 L569.60,9.15 L572.20,8.96 L574.81,8.79 L577.41,8.62 L580.01,8.46 L582.62,8.31 L585.23,8.17 L587.83,8.04 L590.43,7.92 L593.04,7.81 L595.64,7.71 L598.25,7.63 L600.86,7.56 L603.46,7.49 L606.07,7.45 L608.67,7.41 L611.27,7.39 L613.88,7.38" fill="none" stroke="#000" stroke-width="1.25" clip-path="url(#cb)"/>
<path d="M363.80,167.28 L366.41,164.21 L369.01,161.07 L371.62,157.87 L374.22,154.59 L376.82,151.24 L379.43,147.83 L382.04,144.35 L384.64,140.81 L387.25,137.18 L389.85,133.42 L392.46,129.56 L395.06,125.64 L397.67,121.68 L400.27,117.71 L402.88,113.75 L405.48,109.85 L408.09,105.85 L410.69,101.68 L413.30,97.44 L415.90,93.23 L418.50,89.16 L421.11,85.35 L423.72,81.88 L426.32,78.88 L428.93,76.27 L431.53,73.86 L434.13,71.63 L436.74,69.54 L439.35,67.56 L441.95,65.67 L444.56,63.82 L447.16,62.00 L449.76,60.21 L452.37,58.50 L454.98,56.86 L457.58,55.26 L460.19,53.71 L462.79,52.19 L465.39,50.67 L468.00,49.14 L470.61,47.61 L473.21,46.08 L475.81,44.57 L478.42,43.07 L481.02,41.59 L483.63,40.15 L486.24,38.74 L488.84,37.38 L491.44,36.08 L494.05,34.84 L496.65,33.67 L499.26,32.57 L501.87,31.54 L504.47,30.53 L507.08,29.53 L509.68,28.55 L512.28,27.58 L514.89,26.64 L517.50,25.73 L520.10,24.84 L522.71,23.99 L525.31,23.18 L527.91,22.41 L530.52,21.68 L533.12,21.00 L535.73,20.37 L538.34,19.80 L540.94,19.29 L543.55,18.84 L546.15,18.43 L548.75,18.04 L551.36,17.64 L553.97,17.25 L556.57,16.87 L559.17,16.49 L561.78,16.13 L564.38,15.77 L566.99,15.42 L569.60,15.08 L572.20,14.75 L574.81,14.44 L577.41,14.14 L580.01,13.86 L582.62,13.59 L585.23,13.33 L587.83,13.10 L590.43,12.88 L593.04,12.68 L595.64,12.50 L598.25,12.35 L600.86,12.21 L603.46,12.10 L606.07,12.01 L608.67,11.94 L611.27,11.90 L613.88,11.89" fill="none" stroke="#000" stroke-width="1.25" clip-path="url(#cb)"/>
<path d="M363.80,177.41 L366.41,173.30 L369.01,169.19 L371.62,165.10 L374.22,161.01 L376.82,156.93 L379.43,152.87 L382.04,148.81 L384.64,144.76 L387.25,140.69 L389.85,136.60 L392.46,132.50 L395.06,128.41 L397.67,124.37 L400.27,120.38 L402.88,116.47 L405.48,112.67 L408.09,108.93 L410.69,105.22 L413.30,101.56 L415.90,97.97 L418.50,94.45 L421.11,91.03 L423.72,87.71 L426.32,84.52 L428.93,81.42 L431.53,78.39 L434.13,75.43 L436.74,72.55 L439.35,69.76 L441.95,67.07 L444.56,64.48 L447.16,62.00 L449.76,59.52 L452.37,56.97 L454.98,54.39 L457.58,51.81 L460.19,49.28 L462.79,46.84 L465.39,44.54 L468.00,42.40 L470.61,40.48 L473.21,38.81 L475.81,37.44 L478.42,36.41 L481.02,35.68 L483.63,35.02 L486.24,34.40 L488.84,33.85 L491.44,33.38 L494.05,33.03 L496.65,32.80 L499.26,32.72 L501.87,32.72 L504.47,32.72 L507.08,32.72 L509.68,32.72 L512.28,32.72 L514.89,32.72 L517.50,32.72 L520.10,32.72 L522.71,32.72 L525.31,32.72 L527.91,32.72 L530.52,32.72 L533.12,32.79 L535.73,32.98 L538.34,33.26 L540.94,33.62 L543.55,34.02 L546.15,34.43 L548.75,34.83 L551.36,35.20 L553.97,35.54 L556.57,35.88 L559.17,36.23 L561.78,36.58 L564.38,36.93 L566.99,37.29 L569.60,37.66 L572.20,38.02 L574.81,38.40 L577.41,38.77 L580.01,39.15 L582.62,39.54 L585.23,39.93 L587.83,40.32 L590.43,40.72 L593.04,41.12 L595.64,41.53 L598.25,41.95 L600.86,42.37 L603.46,42.79 L606.07,43.22 L608.67,43.65 L611.27,44.10 L613.88,44.54" fill="none" stroke="#000" stroke-width="1.25" stroke-dasharray="11 6" clip-path="url(#cb)"/>
<path d="M363.80,178.54 L366.41,174.42 L369.01,170.36 L371.62,166.38 L374.22,162.47 L376.82,158.63 L379.43,154.87 L382.04,151.18 L384.64,147.57 L387.25,144.04 L389.85,140.59 L392.46,137.21 L395.06,133.90 L397.67,130.63 L400.27,127.42 L402.88,124.25 L405.48,121.11 L408.09,117.94 L410.69,114.71 L413.30,111.48 L415.90,108.31 L418.50,105.27 L421.11,102.41 L423.72,99.78 L426.32,97.46 L428.93,95.40 L431.53,93.49 L434.13,91.72 L436.74,90.05 L439.35,88.46 L441.95,86.93 L444.56,85.44 L447.16,83.95 L449.76,82.42 L452.37,80.80 L454.98,79.13 L457.58,77.43 L460.19,75.73 L462.79,74.06 L465.39,72.43 L468.00,70.88 L470.61,69.43 L473.21,68.10 L475.81,66.93 L478.42,65.93 L481.02,65.14 L483.63,64.58 L486.24,64.28 L488.84,64.16 L491.44,64.06 L494.05,63.97 L496.65,63.88 L499.26,63.82 L501.87,63.76 L504.47,63.72 L507.08,63.69 L509.68,63.68 L512.28,63.73 L514.89,63.87 L517.50,64.09 L520.10,64.38 L522.71,64.74 L525.31,65.15 L527.91,65.61 L530.52,66.11 L533.12,66.63 L535.73,67.18 L538.34,67.74 L540.94,68.31 L543.55,68.87 L546.15,69.42 L548.75,69.94 L551.36,70.44 L553.97,70.92 L556.57,71.41 L559.17,71.91 L561.78,72.41 L564.38,72.92 L566.99,73.44 L569.60,73.96 L572.20,74.49 L574.81,75.03 L577.41,75.58 L580.01,76.13 L582.62,76.69 L585.23,77.25 L587.83,77.83 L590.43,78.41 L593.04,79.00 L595.64,79.59 L598.25,80.19 L600.86,80.80 L603.46,81.42 L606.07,82.04 L608.67,82.67 L611.27,83.31 L613.88,83.95" fill="none" stroke="#000" stroke-width="1.25" stroke-dasharray="11 6" clip-path="url(#cb)"/>
<path d="M363.80,183.04 L366.41,179.01 L369.01,175.03 L371.62,171.09 L374.22,167.20 L376.82,163.35 L379.43,159.54 L382.04,155.79 L384.64,152.07 L387.25,148.39 L389.85,144.73 L392.46,141.11 L395.06,137.53 L397.67,134.00 L400.27,130.56 L402.88,127.19 L405.48,123.92 L408.09,120.70 L410.69,117.48 L413.30,114.30 L415.90,111.20 L418.50,108.21 L421.11,105.37 L423.72,102.71 L426.32,100.28 L428.93,98.04 L431.53,95.93 L434.13,93.94 L436.74,92.05 L439.35,90.23 L441.95,88.48 L444.56,86.77 L447.16,85.08 L449.76,83.31 L452.37,81.43 L454.98,79.52 L457.58,77.68 L460.19,75.97 L462.79,74.50 L465.39,73.34 L468.00,72.58 L470.61,72.22 L473.21,71.92 L475.81,71.64 L478.42,71.39 L481.02,71.16 L483.63,70.97 L486.24,70.80 L488.84,70.66 L491.44,70.56 L494.05,70.49 L496.65,70.45 L499.26,70.44 L501.87,70.48 L504.47,70.55 L507.08,70.66 L509.68,70.79 L512.28,70.96 L514.89,71.16 L517.50,71.38 L520.10,71.62 L522.71,71.89 L525.31,72.17 L527.91,72.47 L530.52,72.78 L533.12,73.11 L535.73,73.44 L538.34,73.78 L540.94,74.13 L543.55,74.48 L546.15,74.82 L548.75,75.17 L551.36,75.51 L553.97,75.85 L556.57,76.22 L559.17,76.61 L561.78,77.01 L564.38,77.44 L566.99,77.88 L569.60,78.34 L572.20,78.82 L574.81,79.32 L577.41,79.83 L580.01,80.36 L582.62,80.90 L585.23,81.46 L587.83,82.03 L590.43,82.62 L593.04,83.22 L595.64,83.83 L598.25,84.46 L600.86,85.10 L603.46,85.75 L606.07,86.41 L608.67,87.08 L611.27,87.76 L613.88,88.46" fill="none" stroke="#000" stroke-width="1.25" clip-path="url(#cb)"/>
<path d="M363.80,184.73 L366.41,181.40 L369.01,178.04 L371.62,174.64 L374.22,171.21 L376.82,167.74 L379.43,164.24 L382.04,160.71 L384.64,157.14 L387.25,153.46 L389.85,149.63 L392.46,145.72 L395.06,141.80 L397.67,137.93 L400.27,134.18 L402.88,130.61 L405.48,127.30 L408.09,124.19 L410.69,121.17 L413.30,118.26 L415.90,115.46 L418.50,112.76 L421.11,110.17 L423.72,107.70 L426.32,105.35 L428.93,103.10 L431.53,100.95 L434.13,98.89 L436.74,96.90 L439.35,94.99 L441.95,93.14 L444.56,91.34 L447.16,89.58 L449.76,87.80 L452.37,85.95 L454.98,84.12 L457.58,82.34 L460.19,80.70 L462.79,79.26 L465.39,78.07 L468.00,77.20 L470.61,76.52 L473.21,75.86 L475.81,75.24 L478.42,74.66 L481.02,74.12 L483.63,73.63 L486.24,73.20 L488.84,72.83 L491.44,72.53 L494.05,72.31 L496.65,72.18 L499.26,72.13 L501.87,72.15 L504.47,72.20 L507.08,72.29 L509.68,72.42 L512.28,72.57 L514.89,72.75 L517.50,72.96 L520.10,73.20 L522.71,73.45 L525.31,73.73 L527.91,74.03 L530.52,74.34 L533.12,74.66 L535.73,75.00 L538.34,75.35 L540.94,75.71 L543.55,76.08 L546.15,76.45 L548.75,76.82 L551.36,77.20 L553.97,77.59 L556.57,78.02 L559.17,78.49 L561.78,79.00 L564.38,79.54 L566.99,80.12 L569.60,80.73 L572.20,81.38 L574.81,82.05 L577.41,82.76 L580.01,83.49 L582.62,84.26 L585.23,85.05 L587.83,85.86 L590.43,86.71 L593.04,87.57 L595.64,88.46 L598.25,89.37 L600.86,90.30 L603.46,91.25 L606.07,92.21 L608.67,93.20 L611.27,94.20 L613.88,95.21" fill="none" stroke="#000" stroke-width="1.25" clip-path="url(#cb)"/>
<path d="M363.80,180.22 L366.41,176.21 L369.01,172.28 L371.62,168.42 L374.22,164.64 L376.82,160.95 L379.43,157.34 L382.04,153.82 L384.64,150.39 L387.25,147.05 L389.85,143.81 L392.46,140.66 L395.06,137.57 L397.67,134.53 L400.27,131.53 L402.88,128.57 L405.48,125.61 L408.09,122.65 L410.69,119.68 L413.30,116.72 L415.90,113.80 L418.50,110.95 L421.11,108.20 L423.72,105.57 L426.32,103.09 L428.93,100.64 L431.53,98.10 L434.13,95.54 L436.74,93.01 L439.35,90.59 L441.95,88.31 L444.56,86.26 L447.16,84.48 L449.76,83.04 L452.37,81.99 L454.98,81.32 L457.58,80.71 L460.19,80.13 L462.79,79.57 L465.39,79.05 L468.00,78.55 L470.61,78.09 L473.21,77.66 L475.81,77.27 L478.42,76.91 L481.02,76.59 L483.63,76.31 L486.24,76.07 L488.84,75.87 L491.44,75.71 L494.05,75.60 L496.65,75.53 L499.26,75.51 L501.87,75.55 L504.47,75.69 L507.08,75.91 L509.68,76.21 L512.28,76.57 L514.89,77.00 L517.50,77.49 L520.10,78.03 L522.71,78.62 L525.31,79.24 L527.91,79.90 L530.52,80.58 L533.12,81.28 L535.73,82.00 L538.34,82.72 L540.94,83.44 L543.55,84.16 L546.15,84.86 L548.75,85.54 L551.36,86.20 L553.97,86.86 L556.57,87.53 L559.17,88.21 L561.78,88.92 L564.38,89.64 L566.99,90.37 L569.60,91.12 L572.20,91.89 L574.81,92.67 L577.41,93.46 L580.01,94.27 L582.62,95.09 L585.23,95.93 L587.83,96.79 L590.43,97.65 L593.04,98.53 L595.64,99.42 L598.25,100.33 L600.86,101.25 L603.46,102.18 L606.07,103.12 L608.67,104.08 L611.27,105.04 L613.88,106.02" fill="none" stroke="#000" stroke-width="1.25" stroke-dasharray="11 6" clip-path="url(#cb)"/>
<circle cx="363.80" cy="196.27" r="3.2" fill="none" stroke="#000" stroke-width="1.0"/>
<path d="M360.05,194.10 L367.55,194.10 L363.80,200.60 Z" fill="none" stroke="#000" stroke-width="1.0"/>
<path d="M360.05,198.44 L367.55,198.44 L363.80,191.94 Z" fill="none" stroke="#000" stroke-width="1.0"/>
<rect x="412.90" y="26.34" width="6.0" height="6.0" fill="none" stroke="#000" stroke-width="1.0"/>
<circle cx="415.90" cy="73.99" r="3.2" fill="none" stroke="#000" stroke-width="1.0"/>
<path d="M412.15,82.39 L419.65,82.39 L415.90,88.89 Z" fill="none" stroke="#000" stroke-width="1.0"/>
<path d="M412.15,104.49 L419.65,104.49 L415.90,97.99 Z" fill="none" stroke="#000" stroke-width="1.0"/>
<path d="M422.57,64.26 L430.07,64.26 L426.32,70.76 Z" fill="#000" stroke="#000" stroke-width="0.4"/>
<rect x="423.32" y="72.00" width="6.0" height="6.0" fill="#000" stroke="#000" stroke-width="0.4"/>
<circle cx="426.32" cy="85.25" r="3.2" fill="#000" stroke="#000" stroke-width="0.4"/>
<path d="M422.57,106.34 L430.07,106.34 L426.32,99.84 Z" fill="#000" stroke="#000" stroke-width="0.4"/>
<rect x="433.74" y="38.16" width="6.0" height="6.0" fill="none" stroke="#000" stroke-width="1.0"/>
<circle cx="436.74" cy="66.50" r="3.2" fill="none" stroke="#000" stroke-width="1.0"/>
<path d="M432.99,66.06 L440.49,66.06 L436.74,72.56 Z" fill="none" stroke="#000" stroke-width="1.0"/>
<path d="M432.99,81.35 L440.49,81.35 L436.74,74.85 Z" fill="none" stroke="#000" stroke-width="1.0"/>
<rect x="444.16" y="10.30" width="6.0" height="6.0" fill="#000" stroke="#000" stroke-width="0.4"/>
<circle cx="447.16" cy="68.02" r="3.2" fill="#000" stroke="#000" stroke-width="0.4"/>
<path d="M443.41,80.73 L450.91,80.73 L447.16,74.23 Z" fill="#000" stroke="#000" stroke-width="0.4"/>
<rect x="454.58" y="43.79" width="6.0" height="6.0" fill="none" stroke="#000" stroke-width="1.0"/>
<path d="M453.83,52.55 L461.33,52.55 L457.58,59.05 Z" fill="none" stroke="#000" stroke-width="1.0"/>
<circle cx="457.58" cy="58.62" r="3.2" fill="none" stroke="#000" stroke-width="1.0"/>
<path d="M453.83,69.52 L461.33,69.52 L457.58,63.02 Z" fill="none" stroke="#000" stroke-width="1.0"/>
<rect x="465.00" y="14.18" width="6.0" height="6.0" fill="#000" stroke="#000" stroke-width="0.4"/>
<circle cx="468.00" cy="47.92" r="3.2" fill="#000" stroke="#000" stroke-width="0.4"/>
<path d="M464.25,59.87 L471.75,59.87 L468.00,66.37 Z" fill="#000" stroke="#000" stroke-width="0.4"/>
<path d="M464.25,66.37 L471.75,66.37 L468.00,59.87 Z" fill="#000" stroke="#000" stroke-width="0.4"/>
<circle cx="478.42" cy="13.30" r="3.2" fill="none" stroke="#000" stroke-width="1.0"/>
<rect x="475.42" y="44.92" width="6.0" height="6.0" fill="none" stroke="#000" stroke-width="1.0"/>
<path d="M474.67,47.79 L482.17,47.79 L478.42,41.29 Z" fill="none" stroke="#000" stroke-width="1.0"/>
<path d="M474.67,60.43 L482.17,60.43 L478.42,66.93 Z" fill="none" stroke="#000" stroke-width="1.0"/>
<circle cx="499.26" cy="18.08" r="3.2" fill="none" stroke="#000" stroke-width="1.0"/>
<rect x="496.26" y="24.82" width="6.0" height="6.0" fill="none" stroke="#000" stroke-width="1.0"/>
<rect x="496.26" y="42.84" width="6.0" height="6.0" fill="#000" stroke="#000" stroke-width="0.4"/>
<path d="M495.51,58.49 L503.01,58.49 L499.26,51.99 Z" fill="#000" stroke="#000" stroke-width="0.4"/>
<path d="M495.51,69.19 L503.01,69.19 L499.26,62.69 Z" fill="none" stroke="#000" stroke-width="1.0"/>
<path d="M495.51,71.13 L503.01,71.13 L499.26,77.63 Z" fill="none" stroke="#000" stroke-width="1.0"/>
<path d="M495.51,77.89 L503.01,77.89 L499.26,84.39 Z" fill="#000" stroke="#000" stroke-width="0.4"/>
<circle cx="530.52" cy="8.51" r="3.2" fill="#000" stroke="#000" stroke-width="0.4"/>
<rect x="527.52" y="8.89" width="6.0" height="6.0" fill="#000" stroke="#000" stroke-width="0.4"/>
<path d="M526.77,90.71 L534.27,90.71 L530.52,84.21 Z" fill="#000" stroke="#000" stroke-width="0.4"/>
<path d="M526.77,90.71 L534.27,90.71 L530.52,97.21 Z" fill="#000" stroke="#000" stroke-width="0.4"/>
<circle cx="551.36" cy="26.53" r="3.2" fill="none" stroke="#000" stroke-width="1.0"/>
<rect x="548.36" y="52.80" width="6.0" height="6.0" fill="none" stroke="#000" stroke-width="1.0"/>
<path d="M547.61,82.56 L555.11,82.56 L551.36,89.06 Z" fill="none" stroke="#000" stroke-width="1.0"/>
<path d="M547.61,124.36 L555.11,124.36 L551.36,117.86 Z" fill="none" stroke="#000" stroke-width="1.0"/>
<rect x="610.88" y="16.60" width="6.0" height="6.0" fill="#000" stroke="#000" stroke-width="0.4"/>
<circle cx="613.88" cy="24.11" r="3.2" fill="#000" stroke="#000" stroke-width="0.4"/>
<path d="M610.13,93.44 L617.63,93.44 L613.88,99.94 Z" fill="#000" stroke="#000" stroke-width="0.4"/>
<path d="M610.13,97.78 L617.63,97.78 L613.88,91.28 Z" fill="#000" stroke="#000" stroke-width="0.4"/>
<path d="M69.30,455.39 L71.91,452.90 L74.51,450.42 L77.11,447.93 L79.72,445.45 L82.33,442.97 L84.93,440.49 L87.53,438.03 L90.14,435.57 L92.75,433.12 L95.35,430.68 L97.95,428.25 L100.56,425.83 L103.16,423.42 L105.77,421.02 L108.38,418.64 L110.98,416.27 L113.58,413.91 L116.19,411.57 L118.79,409.25 L121.40,406.94 L124.00,404.65 L126.61,402.38 L129.22,400.13 L131.82,397.89 L134.43,395.67 L137.03,393.48 L139.63,391.30 L142.24,389.14 L144.84,387.01 L147.45,384.89 L150.06,382.80 L152.66,380.73 L155.26,378.67 L157.87,376.65 L160.47,374.64 L163.08,372.65 L165.69,370.69 L168.29,368.75 L170.89,366.83 L173.50,364.93 L176.10,363.06 L178.71,361.21 L181.31,359.38 L183.92,357.57 L186.52,355.79 L189.13,354.03 L191.74,352.28 L194.34,350.56 L196.94,348.87 L199.55,347.19 L202.15,345.53 L204.76,343.89 L207.37,342.28 L209.97,340.68 L212.57,339.10 L215.18,337.54 L217.78,336.00 L220.39,334.48 L223.00,332.97 L225.60,331.48 L228.20,330.00 L230.81,328.55 L233.42,327.10 L236.02,325.67 L238.62,324.25 L241.23,322.85 L243.83,321.46 L246.44,320.08 L249.05,318.70 L251.65,317.34 L254.25,315.99 L256.86,314.64 L259.46,313.30 L262.07,311.97 L264.68,310.64 L267.28,309.31 L269.88,307.99 L272.49,306.67 L275.09,305.35 L277.70,304.02 L280.31,302.70 L282.91,301.37 L285.51,300.04 L288.12,298.70 L290.73,297.36 L293.33,296.00 L295.94,294.64 L298.54,293.27 L301.14,291.88 L303.75,290.48 L306.36,289.06 L308.96,287.63 L311.56,286.18 L314.17,284.70 L316.77,283.21 L319.38,281.69" fill="none" stroke="#000" stroke-width="1.25" clip-path="url(#cc)"/>
<path d="M69.30,446.70 L71.91,444.59 L74.51,442.47 L77.11,440.33 L79.72,438.20 L82.33,436.05 L84.93,433.90 L87.53,431.75 L90.14,429.60 L92.75,427.45 L95.35,425.29 L97.95,423.14 L100.56,420.99 L103.16,418.84 L105.77,416.70 L108.38,414.56 L110.98,412.43 L113.58,410.30 L116.19,408.19 L118.79,406.08 L121.40,403.98 L124.00,401.89 L126.61,399.81 L129.22,397.74 L131.82,395.68 L134.43,393.64 L137.03,391.61 L139.63,389.59 L142.24,387.59 L144.84,385.60 L147.45,383.63 L150.06,381.68 L152.66,379.74 L155.26,377.82 L157.87,375.91 L160.47,374.03 L163.08,372.16 L165.69,370.31 L168.29,368.47 L170.89,366.66 L173.50,364.87 L176.10,363.09 L178.71,361.34 L181.31,359.61 L183.92,357.89 L186.52,356.20 L189.13,354.52 L191.74,352.87 L194.34,351.23 L196.94,349.62 L199.55,348.02 L202.15,346.45 L204.76,344.90 L207.37,343.36 L209.97,341.85 L212.57,340.35 L215.18,338.88 L217.78,337.42 L220.39,335.98 L223.00,334.57 L225.60,333.17 L228.20,331.78 L230.81,330.42 L233.42,329.07 L236.02,327.74 L238.62,326.43 L241.23,325.13 L243.83,323.85 L246.44,322.58 L249.05,321.33 L251.65,320.09 L254.25,318.87 L256.86,317.65 L259.46,316.45 L262.07,315.26 L264.68,314.09 L267.28,312.92 L269.88,311.76 L272.49,310.61 L275.09,309.47 L277.70,308.33 L280.31,307.20 L282.91,306.07 L285.51,304.95 L288.12,303.84 L290.73,302.72 L293.33,301.61 L295.94,300.49 L298.54,299.38 L301.14,298.26 L303.75,297.14 L306.36,296.01 L308.96,294.88 L311.56,293.75 L314.17,292.60 L316.77,291.45 L319.38,290.29" fill="none" stroke="#000" stroke-width="1.25" stroke-dasharray="11 6" clip-path="url(#cc)"/>
<path d="M69.30,440.80 L71.91,438.99 L74.51,437.17 L77.11,435.36 L79.72,433.55 L82.33,431.75 L84.93,429.95 L87.53,428.16 L90.14,426.37 L92.75,424.59 L95.35,422.82 L97.95,421.06 L100.56,419.30 L103.16,417.56 L105.77,415.83 L108.38,414.11 L110.98,412.40 L113.58,410.71 L116.19,409.03 L118.79,407.36 L121.40,405.71 L124.00,404.07 L126.61,402.45 L129.22,400.84 L131.82,399.25 L134.43,397.68 L137.03,396.13 L139.63,394.59 L142.24,393.07 L144.84,391.57 L147.45,390.09 L150.06,388.63 L152.66,387.19 L155.26,385.77 L157.87,384.36 L160.47,382.98 L163.08,381.62 L165.69,380.27 L168.29,378.95 L170.89,377.65 L173.50,376.37 L176.10,375.11 L178.71,373.87 L181.31,372.65 L183.92,371.46 L186.52,370.28 L189.13,369.12 L191.74,367.99 L194.34,366.87 L196.94,365.78 L199.55,364.71 L202.15,363.65 L204.76,362.62 L207.37,361.60 L209.97,360.61 L212.57,359.63 L215.18,358.68 L217.78,357.74 L220.39,356.82 L223.00,355.92 L225.60,355.04 L228.20,354.17 L230.81,353.32 L233.42,352.49 L236.02,351.67 L238.62,350.87 L241.23,350.09 L243.83,349.32 L246.44,348.56 L249.05,347.81 L251.65,347.08 L254.25,346.36 L256.86,345.66 L259.46,344.96 L262.07,344.27 L264.68,343.59 L267.28,342.93 L269.88,342.27 L272.49,341.61 L275.09,340.97 L277.70,340.32 L280.31,339.69 L282.91,339.06 L285.51,338.43 L288.12,337.80 L290.73,337.17 L293.33,336.55 L295.94,335.92 L298.54,335.29 L301.14,334.66 L303.75,334.02 L306.36,333.38 L308.96,332.74 L311.56,332.08 L314.17,331.42 L316.77,330.75 L319.38,330.07" fill="none" stroke="#000" stroke-width="1.25" stroke-dasharray="11 6" clip-path="url(#cc)"/>
<path d="M69.30,437.88 L71.91,436.07 L74.51,434.29 L77.11,432.54 L79.72,430.81 L82.33,429.11 L84.93,427.44 L87.53,425.79 L90.14,424.18 L92.75,422.58 L95.35,421.02 L97.95,419.48 L100.56,417.96 L103.16,416.48 L105.77,415.01 L108.38,413.58 L110.98,412.17 L113.58,410.78 L116.19,409.42 L118.79,408.09 L121.40,406.78 L124.00,405.49 L126.61,404.23 L129.22,403.00 L131.82,401.79 L134.43,400.60 L137.03,399.44 L139.63,398.30 L142.24,397.18 L144.84,396.09 L147.45,395.02 L150.06,393.97 L152.66,392.95 L155.26,391.95 L157.87,390.97 L160.47,390.01 L163.08,389.07 L165.69,388.16 L168.29,387.26 L170.89,386.39 L173.50,385.54 L176.10,384.70 L178.71,383.89 L181.31,383.09 L183.92,382.32 L186.52,381.56 L189.13,380.82 L191.74,380.10 L194.34,379.40 L196.94,378.72 L199.55,378.05 L202.15,377.40 L204.76,376.76 L207.37,376.14 L209.97,375.54 L212.57,374.95 L215.18,374.38 L217.78,373.82 L220.39,373.27 L223.00,372.74 L225.60,372.22 L228.20,371.71 L230.81,371.22 L233.42,370.73 L236.02,370.26 L238.62,369.80 L241.23,369.35 L243.83,368.91 L246.44,368.47 L249.05,368.05 L251.65,367.64 L254.25,367.23 L256.86,366.83 L259.46,366.43 L262.07,366.05 L264.68,365.67 L267.28,365.29 L269.88,364.92 L272.49,364.55 L275.09,364.18 L277.70,363.82 L280.31,363.46 L282.91,363.11 L285.51,362.75 L288.12,362.39 L290.73,362.04 L293.33,361.68 L295.94,361.33 L298.54,360.97 L301.14,360.60 L303.75,360.24 L306.36,359.87 L308.96,359.50 L311.56,359.12 L314.17,358.73 L316.77,358.34 L319.38,357.95" fill="none" stroke="#000" stroke-width="1.25" clip-path="url(#cc)"/>
<path d="M69.30,456.20 L71.91,455.62 L74.51,455.02 L77.11,454.41 L79.72,453.79 L82.33,453.16 L84.93,452.52 L87.53,451.87 L90.14,451.22 L92.75,450.56 L95.35,449.90 L97.95,449.24 L100.56,448.58 L103.16,447.92 L105.77,447.26 L108.38,446.61 L110.98,445.95 L113.58,445.31 L116.19,444.67 L118.79,444.04 L121.40,443.41 L124.00,442.80 L126.61,442.20 L129.22,441.60 L131.82,441.02 L134.43,440.45 L137.03,439.90 L139.63,439.36 L142.24,438.83 L144.84,438.32 L147.45,437.83 L150.06,437.35 L152.66,436.89 L155.26,436.45 L157.87,436.03 L160.47,435.62 L163.08,435.24 L165.69,434.87 L168.29,434.53 L170.89,434.20 L173.50,433.89 L176.10,433.61 L178.71,433.35 L181.31,433.11 L183.92,432.88 L186.52,432.68 L189.13,432.51 L191.74,432.35 L194.34,432.22 L196.94,432.10 L199.55,432.01 L202.15,431.94 L204.76,431.89 L207.37,431.86 L209.97,431.85 L212.57,431.86 L215.18,431.89 L217.78,431.95 L220.39,432.02 L223.00,432.11 L225.60,432.22 L228.20,432.35 L230.81,432.49 L233.42,432.65 L236.02,432.83 L238.62,433.03 L241.23,433.24 L243.83,433.46 L246.44,433.70 L249.05,433.96 L251.65,434.22 L254.25,434.50 L256.86,434.78 L259.46,435.08 L262.07,435.39 L264.68,435.70 L267.28,436.03 L269.88,436.35 L272.49,436.69 L275.09,437.02 L277.70,437.36 L280.31,437.70 L282.91,438.05 L285.51,438.39 L288.12,438.73 L290.73,439.06 L293.33,439.39 L295.94,439.72 L298.54,440.03 L301.14,440.34 L303.75,440.64 L306.36,440.93 L308.96,441.20 L311.56,441.46 L314.17,441.70 L316.77,441.92 L319.38,442.13" fill="none" stroke="#000" stroke-width="1.25" clip-path="url(#cc)"/>
<path d="M69.30,458.61 L71.91,458.17 L74.51,457.70 L77.11,457.21 L79.72,456.70 L82.33,456.18 L84.93,455.65 L87.53,455.11 L90.14,454.55 L92.75,453.99 L95.35,453.42 L97.95,452.84 L100.56,452.27 L103.16,451.69 L105.77,451.11 L108.38,450.53 L110.98,449.96 L113.58,449.38 L116.19,448.82 L118.79,448.26 L121.40,447.71 L124.00,447.16 L126.61,446.63 L129.22,446.11 L131.82,445.60 L134.43,445.11 L137.03,444.63 L139.63,444.16 L142.24,443.71 L144.84,443.28 L147.45,442.86 L150.06,442.46 L152.66,442.09 L155.26,441.73 L157.87,441.39 L160.47,441.07 L163.08,440.78 L165.69,440.51 L168.29,440.25 L170.89,440.03 L173.50,439.82 L176.10,439.64 L178.71,439.48 L181.31,439.35 L183.92,439.24 L186.52,439.15 L189.13,439.09 L191.74,439.05 L194.34,439.03 L196.94,439.04 L199.55,439.08 L202.15,439.14 L204.76,439.22 L207.37,439.32 L209.97,439.45 L212.57,439.60 L215.18,439.77 L217.78,439.97 L220.39,440.18 L223.00,440.42 L225.60,440.68 L228.20,440.96 L230.81,441.25 L233.42,441.57 L236.02,441.90 L238.62,442.25 L241.23,442.62 L243.83,443.00 L246.44,443.39 L249.05,443.80 L251.65,444.22 L254.25,444.66 L256.86,445.10 L259.46,445.55 L262.07,446.01 L264.68,446.48 L267.28,446.95 L269.88,447.43 L272.49,447.91 L275.09,448.39 L277.70,448.87 L280.31,449.35 L282.91,449.82 L285.51,450.29 L288.12,450.76 L290.73,451.22 L293.33,451.66 L295.94,452.10 L298.54,452.52 L301.14,452.93 L303.75,453.32 L306.36,453.69 L308.96,454.04 L311.56,454.37 L314.17,454.67 L316.77,454.95 L319.38,455.19" fill="none" stroke="#000" stroke-width="1.25" clip-path="url(#cc)"/>
<path d="M69.30,457.19 L71.91,456.81 L74.51,456.40 L77.11,455.96 L79.72,455.50 L82.33,455.02 L84.93,454.51 L87.53,453.99 L90.14,453.45 L92.75,452.90 L95.35,452.34 L97.95,451.76 L100.56,451.19 L103.16,450.60 L105.77,450.02 L108.38,449.43 L110.98,448.84 L113.58,448.26 L116.19,447.68 L118.79,447.11 L121.40,446.54 L124.00,445.99 L126.61,445.44 L129.22,444.91 L131.82,444.39 L134.43,443.89 L137.03,443.40 L139.63,442.93 L142.24,442.47 L144.84,442.04 L147.45,441.63 L150.06,441.23 L152.66,440.86 L155.26,440.52 L157.87,440.20 L160.47,439.90 L163.08,439.62 L165.69,439.38 L168.29,439.16 L170.89,438.96 L173.50,438.79 L176.10,438.65 L178.71,438.54 L181.31,438.45 L183.92,438.40 L186.52,438.37 L189.13,438.37 L191.74,438.40 L194.34,438.45 L196.94,438.53 L199.55,438.64 L202.15,438.78 L204.76,438.94 L207.37,439.14 L209.97,439.35 L212.57,439.59 L215.18,439.86 L217.78,440.15 L220.39,440.47 L223.00,440.81 L225.60,441.17 L228.20,441.55 L230.81,441.95 L233.42,442.37 L236.02,442.80 L238.62,443.26 L241.23,443.73 L243.83,444.21 L246.44,444.71 L249.05,445.22 L251.65,445.74 L254.25,446.27 L256.86,446.80 L259.46,447.34 L262.07,447.89 L264.68,448.44 L267.28,448.98 L269.88,449.53 L272.49,450.07 L275.09,450.61 L277.70,451.14 L280.31,451.66 L282.91,452.16 L285.51,452.66 L288.12,453.13 L290.73,453.59 L293.33,454.03 L295.94,454.44 L298.54,454.83 L301.14,455.19 L303.75,455.51 L306.36,455.81 L308.96,456.06 L311.56,456.28 L314.17,456.45 L316.77,456.58 L319.38,456.66" fill="none" stroke="#000" stroke-width="1.25" stroke-dasharray="11 6" clip-path="url(#cc)"/>
<path d="M69.30,459.73 L71.91,459.39 L74.51,459.02 L77.11,458.62 L79.72,458.18 L82.33,457.73 L84.93,457.25 L87.53,456.74 L90.14,456.22 L92.75,455.69 L95.35,455.14 L97.95,454.58 L100.56,454.01 L103.16,453.43 L105.77,452.85 L108.38,452.26 L110.98,451.67 L113.58,451.08 L116.19,450.50 L118.79,449.92 L121.40,449.34 L124.00,448.77 L126.61,448.21 L129.22,447.67 L131.82,447.13 L134.43,446.61 L137.03,446.10 L139.63,445.60 L142.24,445.13 L144.84,444.67 L147.45,444.23 L150.06,443.81 L152.66,443.42 L155.26,443.04 L157.87,442.69 L160.47,442.36 L163.08,442.06 L165.69,441.78 L168.29,441.52 L170.89,441.30 L173.50,441.10 L176.10,440.93 L178.71,440.78 L181.31,440.66 L183.92,440.58 L186.52,440.51 L189.13,440.48 L191.74,440.48 L194.34,440.50 L196.94,440.56 L199.55,440.64 L202.15,440.75 L204.76,440.89 L207.37,441.05 L209.97,441.25 L212.57,441.47 L215.18,441.72 L217.78,441.99 L220.39,442.29 L223.00,442.61 L225.60,442.95 L228.20,443.32 L230.81,443.72 L233.42,444.13 L236.02,444.57 L238.62,445.02 L241.23,445.49 L243.83,445.98 L246.44,446.49 L249.05,447.01 L251.65,447.54 L254.25,448.09 L256.86,448.65 L259.46,449.21 L262.07,449.79 L264.68,450.37 L267.28,450.96 L269.88,451.54 L272.49,452.13 L275.09,452.72 L277.70,453.31 L280.31,453.89 L282.91,454.46 L285.51,455.03 L288.12,455.58 L290.73,456.12 L293.33,456.65 L295.94,457.16 L298.54,457.65 L301.14,458.11 L303.75,458.55 L306.36,458.97 L308.96,459.35 L311.56,459.70 L314.17,460.01 L316.77,460.29 L319.38,460.52" fill="none" stroke="#000" stroke-width="1.25" stroke-dasharray="11 6" clip-path="url(#cc)"/>
<rect x="66.30" y="454.62" width="6.0" height="6.0" fill="none" stroke="#000" stroke-width="1.0"/>
<path d="M65.55,454.37 L73.05,454.37 L69.30,460.87 Z" fill="none" stroke="#000" stroke-width="1.0"/>
<circle cx="69.30" cy="457.62" r="3.2" fill="none" stroke="#000" stroke-width="1.0"/>
<circle cx="121.40" cy="391.30" r="3.2" fill="none" stroke="#000" stroke-width="1.0"/>
<rect x="118.40" y="399.81" width="6.0" height="6.0" fill="none" stroke="#000" stroke-width="1.0"/>
<path d="M117.65,452.61 L125.15,452.61 L121.40,446.11 Z" fill="none" stroke="#000" stroke-width="1.0"/>
<path d="M117.65,446.11 L125.15,446.11 L121.40,452.61 Z" fill="none" stroke="#000" stroke-width="1.0"/>
<rect x="128.82" y="388.99" width="6.0" height="6.0" fill="#000" stroke="#000" stroke-width="0.4"/>
<path d="M128.07,444.51 L135.57,444.51 L131.82,451.01 Z" fill="#000" stroke="#000" stroke-width="0.4"/>
<path d="M128.07,448.85 L135.57,448.85 L131.82,442.35 Z" fill="#000" stroke="#000" stroke-width="0.4"/>
<circle cx="142.24" cy="369.73" r="3.2" fill="none" stroke="#000" stroke-width="1.0"/>
<rect x="139.24" y="399.81" width="6.0" height="6.0" fill="none" stroke="#000" stroke-width="1.0"/>
<path d="M138.49,438.99 L145.99,438.99 L142.24,432.49 Z" fill="none" stroke="#000" stroke-width="1.0"/>
<path d="M138.49,444.20 L145.99,444.20 L142.24,450.70 Z" fill="none" stroke="#000" stroke-width="1.0"/>
<rect x="149.66" y="388.99" width="6.0" height="6.0" fill="#000" stroke="#000" stroke-width="0.4"/>
<path d="M148.91,444.17 L156.41,444.17 L152.66,437.67 Z" fill="#000" stroke="#000" stroke-width="0.4"/>
<rect x="160.08" y="366.73" width="6.0" height="6.0" fill="none" stroke="#000" stroke-width="1.0"/>
<path d="M159.33,427.28 L166.83,427.28 L163.08,420.78 Z" fill="none" stroke="#000" stroke-width="1.0"/>
<path d="M159.33,439.78 L166.83,439.78 L163.08,446.28 Z" fill="none" stroke="#000" stroke-width="1.0"/>
<circle cx="173.50" cy="347.85" r="3.2" fill="#000" stroke="#000" stroke-width="0.4"/>
<rect x="170.50" y="366.73" width="6.0" height="6.0" fill="#000" stroke="#000" stroke-width="0.4"/>
<path d="M169.75,433.23 L177.25,433.23 L173.50,426.73 Z" fill="#000" stroke="#000" stroke-width="0.4"/>
<path d="M169.75,444.20 L177.25,444.20 L173.50,450.70 Z" fill="#000" stroke="#000" stroke-width="0.4"/>
<rect x="180.92" y="323.55" width="6.0" height="6.0" fill="none" stroke="#000" stroke-width="1.0"/>
<circle cx="183.92" cy="369.73" r="3.2" fill="none" stroke="#000" stroke-width="1.0"/>
<path d="M180.17,433.26 L187.67,433.26 L183.92,439.76 Z" fill="none" stroke="#000" stroke-width="1.0"/>
<path d="M180.17,444.17 L187.67,444.17 L183.92,437.67 Z" fill="none" stroke="#000" stroke-width="1.0"/>
<circle cx="204.76" cy="342.67" r="3.2" fill="none" stroke="#000" stroke-width="1.0"/>
<circle cx="204.76" cy="348.04" r="3.2" fill="#000" stroke="#000" stroke-width="0.4"/>
<rect x="201.76" y="366.73" width="6.0" height="6.0" fill="none" stroke="#000" stroke-width="1.0"/>
<path d="M201.01,427.28 L208.51,427.28 L204.76,420.78 Z" fill="#000" stroke="#000" stroke-width="0.4"/>
<path d="M201.01,433.26 L208.51,433.26 L204.76,439.76 Z" fill="#000" stroke="#000" stroke-width="0.4"/>
<path d="M201.01,445.51 L208.51,445.51 L204.76,439.01 Z" fill="none" stroke="#000" stroke-width="1.0"/>
<path d="M201.01,444.96 L208.51,444.96 L204.76,451.46 Z" fill="none" stroke="#000" stroke-width="1.0"/>
<circle cx="236.02" cy="325.97" r="3.2" fill="#000" stroke="#000" stroke-width="0.4"/>
<rect x="233.02" y="366.92" width="6.0" height="6.0" fill="#000" stroke="#000" stroke-width="0.4"/>
<path d="M232.27,433.62 L239.77,433.62 L236.02,427.12 Z" fill="#000" stroke="#000" stroke-width="0.4"/>
<path d="M232.27,443.81 L239.77,443.81 L236.02,450.31 Z" fill="#000" stroke="#000" stroke-width="0.4"/>
<circle cx="256.86" cy="317.91" r="3.2" fill="none" stroke="#000" stroke-width="1.0"/>
<rect x="253.86" y="366.92" width="6.0" height="6.0" fill="none" stroke="#000" stroke-width="1.0"/>
<path d="M253.11,444.89 L260.61,444.89 L256.86,451.39 Z" fill="none" stroke="#000" stroke-width="1.0"/>
<path d="M253.11,449.23 L260.61,449.23 L256.86,442.73 Z" fill="none" stroke="#000" stroke-width="1.0"/>
<circle cx="319.38" cy="280.68" r="3.2" fill="#000" stroke="#000" stroke-width="0.4"/>
<rect x="316.38" y="366.92" width="6.0" height="6.0" fill="#000" stroke="#000" stroke-width="0.4"/>
<path d="M315.63,449.36 L323.13,449.36 L319.38,442.86 Z" fill="#000" stroke="#000" stroke-width="0.4"/>
<path d="M315.63,449.36 L323.13,449.36 L319.38,455.86 Z" fill="#000" stroke="#000" stroke-width="0.4"/>
<path d="M363.80,417.63 L366.41,415.01 L369.01,412.40 L371.62,409.79 L374.22,407.18 L376.82,404.59 L379.43,402.01 L382.04,399.43 L384.64,396.88 L387.25,394.33 L389.85,391.81 L392.46,389.30 L395.06,386.81 L397.67,384.34 L400.27,381.90 L402.88,379.48 L405.48,377.08 L408.09,374.71 L410.69,372.37 L413.30,370.06 L415.90,367.78 L418.50,365.53 L421.11,363.31 L423.72,361.12 L426.32,358.97 L428.93,356.86 L431.53,354.78 L434.13,352.73 L436.74,350.73 L439.35,348.76 L441.95,346.83 L444.56,344.94 L447.16,343.08 L449.76,341.27 L452.37,339.50 L454.98,337.78 L457.58,336.09 L460.19,334.44 L462.79,332.84 L465.39,331.28 L468.00,329.76 L470.61,328.29 L473.21,326.86 L475.81,325.47 L478.42,324.12 L481.02,322.82 L483.63,321.56 L486.24,320.34 L488.84,319.17 L491.44,318.04 L494.05,316.95 L496.65,315.90 L499.26,314.90 L501.87,313.93 L504.47,313.01 L507.08,312.12 L509.68,311.28 L512.28,310.47 L514.89,309.71 L517.50,308.98 L520.10,308.28 L522.71,307.63 L525.31,307.01 L527.91,306.42 L530.52,305.87 L533.12,305.35 L535.73,304.86 L538.34,304.41 L540.94,303.98 L543.55,303.58 L546.15,303.21 L548.75,302.87 L551.36,302.55 L553.97,302.25 L556.57,301.97 L559.17,301.72 L561.78,301.49 L564.38,301.27 L566.99,301.07 L569.60,300.88 L572.20,300.71 L574.81,300.55 L577.41,300.40 L580.01,300.25 L582.62,300.12 L585.23,299.98 L587.83,299.85 L590.43,299.72 L593.04,299.59 L595.64,299.45 L598.25,299.31 L600.86,299.16 L603.46,299.00 L606.07,298.82 L608.67,298.64 L611.27,298.43 L613.88,298.21" fill="none" stroke="#000" stroke-width="1.25" clip-path="url(#cd)"/>
<path d="M363.80,412.15 L366.41,409.74 L369.01,407.33 L371.62,404.95 L374.22,402.58 L376.82,400.23 L379.43,397.89 L382.04,395.58 L384.64,393.29 L387.25,391.03 L389.85,388.79 L392.46,386.57 L395.06,384.37 L397.67,382.21 L400.27,380.07 L402.88,377.96 L405.48,375.88 L408.09,373.83 L410.69,371.81 L413.30,369.82 L415.90,367.86 L418.50,365.93 L421.11,364.04 L423.72,362.19 L426.32,360.36 L428.93,358.58 L431.53,356.82 L434.13,355.11 L436.74,353.43 L439.35,351.78 L441.95,350.18 L444.56,348.61 L447.16,347.08 L449.76,345.59 L452.37,344.14 L454.98,342.72 L457.58,341.35 L460.19,340.01 L462.79,338.72 L465.39,337.46 L468.00,336.25 L470.61,335.07 L473.21,333.93 L475.81,332.83 L478.42,331.77 L481.02,330.76 L483.63,329.78 L486.24,328.84 L488.84,327.94 L491.44,327.07 L494.05,326.25 L496.65,325.47 L499.26,324.72 L501.87,324.01 L504.47,323.34 L507.08,322.71 L509.68,322.11 L512.28,321.55 L514.89,321.03 L517.50,320.54 L520.10,320.08 L522.71,319.66 L525.31,319.28 L527.91,318.92 L530.52,318.60 L533.12,318.32 L535.73,318.06 L538.34,317.83 L540.94,317.63 L543.55,317.47 L546.15,317.33 L548.75,317.21 L551.36,317.12 L553.97,317.06 L556.57,317.03 L559.17,317.01 L561.78,317.02 L564.38,317.05 L566.99,317.10 L569.60,317.17 L572.20,317.26 L574.81,317.36 L577.41,317.48 L580.01,317.61 L582.62,317.76 L585.23,317.92 L587.83,318.09 L590.43,318.27 L593.04,318.46 L595.64,318.65 L598.25,318.85 L600.86,319.05 L603.46,319.25 L606.07,319.46 L608.67,319.66 L611.27,319.86 L613.88,320.06" fill="none" stroke="#000" stroke-width="1.25" stroke-dasharray="11 6" clip-path="url(#cd)"/>
<path d="M363.80,423.54 L366.41,420.74 L369.01,417.97 L371.62,415.22 L374.22,412.50 L376.82,409.80 L379.43,407.13 L382.04,404.48 L384.64,401.86 L387.25,399.27 L389.85,396.71 L392.46,394.19 L395.06,391.70 L397.67,389.24 L400.27,386.81 L402.88,384.43 L405.48,382.08 L408.09,379.76 L410.69,377.49 L413.30,375.25 L415.90,373.05 L418.50,370.90 L421.11,368.78 L423.72,366.71 L426.32,364.68 L428.93,362.69 L431.53,360.75 L434.13,358.84 L436.74,356.99 L439.35,355.17 L441.95,353.40 L444.56,351.68 L447.16,350.00 L449.76,348.37 L452.37,346.78 L454.98,345.24 L457.58,343.74 L460.19,342.29 L462.79,340.88 L465.39,339.52 L468.00,338.21 L470.61,336.94 L473.21,335.71 L475.81,334.53 L478.42,333.40 L481.02,332.31 L483.63,331.26 L486.24,330.26 L488.84,329.30 L491.44,328.38 L494.05,327.51 L496.65,326.67 L499.26,325.88 L501.87,325.13 L504.47,324.42 L507.08,323.74 L509.68,323.11 L512.28,322.51 L514.89,321.95 L517.50,321.43 L520.10,320.94 L522.71,320.48 L525.31,320.06 L527.91,319.67 L530.52,319.31 L533.12,318.98 L535.73,318.68 L538.34,318.40 L540.94,318.16 L543.55,317.93 L546.15,317.73 L548.75,317.56 L551.36,317.40 L553.97,317.27 L556.57,317.15 L559.17,317.05 L561.78,316.96 L564.38,316.89 L566.99,316.83 L569.60,316.77 L572.20,316.73 L574.81,316.69 L577.41,316.66 L580.01,316.63 L582.62,316.61 L585.23,316.58 L587.83,316.55 L590.43,316.51 L593.04,316.47 L595.64,316.42 L598.25,316.35 L600.86,316.28 L603.46,316.19 L606.07,316.08 L608.67,315.95 L611.27,315.80 L613.88,315.62" fill="none" stroke="#000" stroke-width="1.25" clip-path="url(#cd)"/>
<path d="M363.80,431.96 L366.41,429.85 L369.01,427.77 L371.62,425.72 L374.22,423.71 L376.82,421.73 L379.43,419.78 L382.04,417.87 L384.64,416.00 L387.25,414.16 L389.85,412.35 L392.46,410.58 L395.06,408.85 L397.67,407.16 L400.27,405.50 L402.88,403.88 L405.48,402.31 L408.09,400.77 L410.69,399.26 L413.30,397.80 L415.90,396.38 L418.50,395.00 L421.11,393.66 L423.72,392.36 L426.32,391.10 L428.93,389.89 L431.53,388.71 L434.13,387.57 L436.74,386.48 L439.35,385.43 L441.95,384.42 L444.56,383.45 L447.16,382.52 L449.76,381.64 L452.37,380.79 L454.98,379.99 L457.58,379.23 L460.19,378.51 L462.79,377.84 L465.39,377.20 L468.00,376.61 L470.61,376.05 L473.21,375.54 L475.81,375.07 L478.42,374.64 L481.02,374.25 L483.63,373.90 L486.24,373.58 L488.84,373.31 L491.44,373.08 L494.05,372.88 L496.65,372.73 L499.26,372.61 L501.87,372.53 L504.47,372.49 L507.08,372.48 L509.68,372.51 L512.28,372.57 L514.89,372.67 L517.50,372.81 L520.10,372.98 L522.71,373.18 L525.31,373.42 L527.91,373.68 L530.52,373.98 L533.12,374.31 L535.73,374.67 L538.34,375.06 L540.94,375.48 L543.55,375.92 L546.15,376.40 L548.75,376.90 L551.36,377.42 L553.97,377.97 L556.57,378.55 L559.17,379.14 L561.78,379.76 L564.38,380.40 L566.99,381.06 L569.60,381.74 L572.20,382.44 L574.81,383.15 L577.41,383.88 L580.01,384.63 L582.62,385.39 L585.23,386.16 L587.83,386.95 L590.43,387.75 L593.04,388.55 L595.64,389.36 L598.25,390.19 L600.86,391.01 L603.46,391.84 L606.07,392.68 L608.67,393.52 L611.27,394.35 L613.88,395.19" fill="none" stroke="#000" stroke-width="1.25" stroke-dasharray="11 6" clip-path="url(#cd)"/>
<path d="M363.80,449.32 L366.41,447.71 L369.01,446.09 L371.62,444.46 L374.22,442.83 L376.82,441.20 L379.43,439.57 L382.04,437.95 L384.64,436.34 L387.25,434.73 L389.85,433.13 L392.46,431.55 L395.06,429.98 L397.67,428.43 L400.27,426.90 L402.88,425.39 L405.48,423.90 L408.09,422.43 L410.69,420.99 L413.30,419.58 L415.90,418.20 L418.50,416.85 L421.11,415.53 L423.72,414.25 L426.32,413.00 L428.93,411.78 L431.53,410.60 L434.13,409.46 L436.74,408.36 L439.35,407.30 L441.95,406.28 L444.56,405.30 L447.16,404.37 L449.76,403.47 L452.37,402.62 L454.98,401.82 L457.58,401.06 L460.19,400.34 L462.79,399.68 L465.39,399.05 L468.00,398.48 L470.61,397.95 L473.21,397.47 L475.81,397.03 L478.42,396.64 L481.02,396.30 L483.63,396.00 L486.24,395.75 L488.84,395.55 L491.44,395.39 L494.05,395.28 L496.65,395.22 L499.26,395.20 L501.87,395.22 L504.47,395.28 L507.08,395.39 L509.68,395.55 L512.28,395.74 L514.89,395.97 L517.50,396.24 L520.10,396.56 L522.71,396.90 L525.31,397.29 L527.91,397.71 L530.52,398.17 L533.12,398.65 L535.73,399.17 L538.34,399.72 L540.94,400.30 L543.55,400.90 L546.15,401.53 L548.75,402.18 L551.36,402.86 L553.97,403.55 L556.57,404.27 L559.17,405.00 L561.78,405.74 L564.38,406.50 L566.99,407.26 L569.60,408.04 L572.20,408.82 L574.81,409.60 L577.41,410.38 L580.01,411.17 L582.62,411.94 L585.23,412.72 L587.83,413.48 L590.43,414.23 L593.04,414.97 L595.64,415.69 L598.25,416.39 L600.86,417.06 L603.46,417.72 L606.07,418.34 L608.67,418.93 L611.27,419.48 L613.88,419.99" fill="none" stroke="#000" stroke-width="1.25" clip-path="url(#cd)"/>
<path d="M363.80,457.32 L366.41,455.97 L369.01,454.60 L371.62,453.21 L374.22,451.80 L376.82,450.38 L379.43,448.94 L382.04,447.50 L384.64,446.05 L387.25,444.59 L389.85,443.14 L392.46,441.68 L395.06,440.23 L397.67,438.79 L400.27,437.36 L402.88,435.94 L405.48,434.53 L408.09,433.14 L410.69,431.77 L413.30,430.42 L415.90,429.09 L418.50,427.78 L421.11,426.50 L423.72,425.25 L426.32,424.03 L428.93,422.83 L431.53,421.67 L434.13,420.55 L436.74,419.46 L439.35,418.41 L441.95,417.39 L444.56,416.41 L447.16,415.48 L449.76,414.58 L452.37,413.73 L454.98,412.92 L457.58,412.15 L460.19,411.42 L462.79,410.75 L465.39,410.11 L468.00,409.52 L470.61,408.98 L473.21,408.49 L475.81,408.04 L478.42,407.64 L481.02,407.29 L483.63,406.98 L486.24,406.72 L488.84,406.51 L491.44,406.34 L494.05,406.23 L496.65,406.15 L499.26,406.13 L501.87,406.15 L504.47,406.21 L507.08,406.32 L509.68,406.47 L512.28,406.66 L514.89,406.90 L517.50,407.17 L520.10,407.49 L522.71,407.84 L525.31,408.23 L527.91,408.66 L530.52,409.13 L533.12,409.62 L535.73,410.15 L538.34,410.71 L540.94,411.30 L543.55,411.92 L546.15,412.56 L548.75,413.23 L551.36,413.92 L553.97,414.62 L556.57,415.35 L559.17,416.09 L561.78,416.85 L564.38,417.61 L566.99,418.39 L569.60,419.17 L572.20,419.96 L574.81,420.75 L577.41,421.53 L580.01,422.32 L582.62,423.09 L585.23,423.86 L587.83,424.61 L590.43,425.35 L593.04,426.07 L595.64,426.77 L598.25,427.45 L600.86,428.09 L603.46,428.71 L606.07,429.29 L608.67,429.83 L611.27,430.32 L613.88,430.78" fill="none" stroke="#000" stroke-width="1.25" clip-path="url(#cd)"/>
<path d="M363.80,442.51 L366.41,441.83 L369.01,441.07 L371.62,440.26 L374.22,439.38 L376.82,438.46 L379.43,437.49 L382.04,436.47 L384.64,435.42 L387.25,434.34 L389.85,433.24 L392.46,432.11 L395.06,430.97 L397.67,429.81 L400.27,428.65 L402.88,427.48 L405.48,426.31 L408.09,425.15 L410.69,424.00 L413.30,422.86 L415.90,421.73 L418.50,420.62 L421.11,419.54 L423.72,418.47 L426.32,417.44 L428.93,416.44 L431.53,415.47 L434.13,414.54 L436.74,413.65 L439.35,412.80 L441.95,411.99 L444.56,411.23 L447.16,410.52 L449.76,409.85 L452.37,409.24 L454.98,408.67 L457.58,408.16 L460.19,407.71 L462.79,407.31 L465.39,406.97 L468.00,406.69 L470.61,406.46 L473.21,406.30 L475.81,406.19 L478.42,406.15 L481.02,406.16 L483.63,406.23 L486.24,406.37 L488.84,406.56 L491.44,406.81 L494.05,407.13 L496.65,407.50 L499.26,407.92 L501.87,408.41 L504.47,408.95 L507.08,409.54 L509.68,410.19 L512.28,410.88 L514.89,411.63 L517.50,412.43 L520.10,413.27 L522.71,414.16 L525.31,415.08 L527.91,416.05 L530.52,417.06 L533.12,418.10 L535.73,419.17 L538.34,420.28 L540.94,421.41 L543.55,422.56 L546.15,423.73 L548.75,424.92 L551.36,426.13 L553.97,427.34 L556.57,428.56 L559.17,429.79 L561.78,431.01 L564.38,432.22 L566.99,433.43 L569.60,434.62 L572.20,435.79 L574.81,436.94 L577.41,438.06 L580.01,439.14 L582.62,440.19 L585.23,441.19 L587.83,442.14 L590.43,443.04 L593.04,443.88 L595.64,444.65 L598.25,445.35 L600.86,445.98 L603.46,446.51 L606.07,446.96 L608.67,447.31 L611.27,447.56 L613.88,447.70" fill="none" stroke="#000" stroke-width="1.25" stroke-dasharray="11 6" clip-path="url(#cd)"/>
<path d="M363.80,461.77 L366.41,460.09 L369.01,458.40 L371.62,456.71 L374.22,455.01 L376.82,453.32 L379.43,451.63 L382.04,449.95 L384.64,448.28 L387.25,446.62 L389.85,444.97 L392.46,443.35 L395.06,441.74 L397.67,440.16 L400.27,438.60 L402.88,437.06 L405.48,435.56 L408.09,434.09 L410.69,432.64 L413.30,431.24 L415.90,429.87 L418.50,428.54 L421.11,427.25 L423.72,426.00 L426.32,424.79 L428.93,423.63 L431.53,422.51 L434.13,421.44 L436.74,420.42 L439.35,419.45 L441.95,418.53 L444.56,417.66 L447.16,416.84 L449.76,416.08 L452.37,415.36 L454.98,414.71 L457.58,414.10 L460.19,413.56 L462.79,413.06 L465.39,412.63 L468.00,412.25 L470.61,411.93 L473.21,411.66 L475.81,411.45 L478.42,411.29 L481.02,411.20 L483.63,411.15 L486.24,411.17 L488.84,411.24 L491.44,411.36 L494.05,411.54 L496.65,411.77 L499.26,412.06 L501.87,412.39 L504.47,412.78 L507.08,413.22 L509.68,413.71 L512.28,414.25 L514.89,414.83 L517.50,415.46 L520.10,416.14 L522.71,416.85 L525.31,417.61 L527.91,418.41 L530.52,419.25 L533.12,420.13 L535.73,421.04 L538.34,421.98 L540.94,422.95 L543.55,423.96 L546.15,424.99 L548.75,426.04 L551.36,427.12 L553.97,428.22 L556.57,429.34 L559.17,430.47 L561.78,431.62 L564.38,432.77 L566.99,433.93 L569.60,435.10 L572.20,436.27 L574.81,437.44 L577.41,438.60 L580.01,439.76 L582.62,440.91 L585.23,442.04 L587.83,443.15 L590.43,444.25 L593.04,445.32 L595.64,446.36 L598.25,447.37 L600.86,448.35 L603.46,449.29 L606.07,450.18 L608.67,451.03 L611.27,451.83 L613.88,452.57" fill="none" stroke="#000" stroke-width="1.25" stroke-dasharray="11 6" clip-path="url(#cd)"/>
<circle cx="363.80" cy="450.29" r="3.2" fill="none" stroke="#000" stroke-width="1.0"/>
<path d="M360.05,448.12 L367.55,448.12 L363.80,454.62 Z" fill="none" stroke="#000" stroke-width="1.0"/>
<path d="M360.05,452.46 L367.55,452.46 L363.80,445.96 Z" fill="none" stroke="#000" stroke-width="1.0"/>
<rect x="412.90" y="393.43" width="6.0" height="6.0" fill="none" stroke="#000" stroke-width="1.0"/>
<circle cx="415.90" cy="396.43" r="3.2" fill="none" stroke="#000" stroke-width="1.0"/>
<path d="M412.15,411.92 L419.65,411.92 L415.90,418.42 Z" fill="none" stroke="#000" stroke-width="1.0"/>
<path d="M412.15,434.86 L419.65,434.86 L415.90,428.36 Z" fill="none" stroke="#000" stroke-width="1.0"/>
<rect x="423.32" y="340.13" width="6.0" height="6.0" fill="#000" stroke="#000" stroke-width="0.4"/>
<circle cx="426.32" cy="360.63" r="3.2" fill="#000" stroke="#000" stroke-width="0.4"/>
<path d="M422.57,426.05 L430.07,426.05 L426.32,419.55 Z" fill="#000" stroke="#000" stroke-width="0.4"/>
<path d="M422.57,430.04 L430.07,430.04 L426.32,436.54 Z" fill="#000" stroke="#000" stroke-width="0.4"/>
<rect x="433.74" y="269.22" width="6.0" height="6.0" fill="none" stroke="#000" stroke-width="1.0"/>
<circle cx="436.74" cy="360.88" r="3.2" fill="none" stroke="#000" stroke-width="1.0"/>
<path d="M432.99,411.74 L440.49,411.74 L436.74,418.24 Z" fill="none" stroke="#000" stroke-width="1.0"/>
<path d="M432.99,426.05 L440.49,426.05 L436.74,419.55 Z" fill="none" stroke="#000" stroke-width="1.0"/>
<rect x="444.16" y="304.52" width="6.0" height="6.0" fill="#000" stroke="#000" stroke-width="0.4"/>
<circle cx="447.16" cy="360.88" r="3.2" fill="#000" stroke="#000" stroke-width="0.4"/>
<path d="M443.41,399.49 L450.91,399.49 L447.16,392.99 Z" fill="#000" stroke="#000" stroke-width="0.4"/>
<path d="M443.41,430.17 L450.91,430.17 L447.16,436.67 Z" fill="#000" stroke="#000" stroke-width="0.4"/>
<circle cx="457.58" cy="360.88" r="3.2" fill="none" stroke="#000" stroke-width="1.0"/>
<rect x="454.58" y="376.69" width="6.0" height="6.0" fill="none" stroke="#000" stroke-width="1.0"/>
<path d="M453.83,394.24 L461.33,394.24 L457.58,400.74 Z" fill="none" stroke="#000" stroke-width="1.0"/>
<path d="M453.83,417.42 L461.33,417.42 L457.58,410.92 Z" fill="none" stroke="#000" stroke-width="1.0"/>
<circle cx="468.00" cy="289.09" r="3.2" fill="#000" stroke="#000" stroke-width="0.4"/>
<rect x="465.00" y="340.13" width="6.0" height="6.0" fill="#000" stroke="#000" stroke-width="0.4"/>
<path d="M464.25,381.62 L471.75,381.62 L468.00,375.12 Z" fill="#000" stroke="#000" stroke-width="0.4"/>
<path d="M464.25,412.55 L471.75,412.55 L468.00,419.05 Z" fill="#000" stroke="#000" stroke-width="0.4"/>
<rect x="475.42" y="269.22" width="6.0" height="6.0" fill="none" stroke="#000" stroke-width="1.0"/>
<circle cx="478.42" cy="378.75" r="3.2" fill="none" stroke="#000" stroke-width="1.0"/>
<path d="M474.67,394.74 L482.17,394.74 L478.42,401.24 Z" fill="none" stroke="#000" stroke-width="1.0"/>
<path d="M474.67,417.42 L482.17,417.42 L478.42,410.92 Z" fill="none" stroke="#000" stroke-width="1.0"/>
<rect x="496.26" y="286.40" width="6.0" height="6.0" fill="none" stroke="#000" stroke-width="1.0"/>
<circle cx="499.26" cy="289.40" r="3.2" fill="none" stroke="#000" stroke-width="1.0"/>
<rect x="496.26" y="340.13" width="6.0" height="6.0" fill="#000" stroke="#000" stroke-width="0.4"/>
<path d="M495.51,377.12 L503.01,377.12 L499.26,383.62 Z" fill="#000" stroke="#000" stroke-width="0.4"/>
<path d="M495.51,398.87 L503.01,398.87 L499.26,392.37 Z" fill="#000" stroke="#000" stroke-width="0.4"/>
<path d="M495.51,411.74 L503.01,411.74 L499.26,418.24 Z" fill="none" stroke="#000" stroke-width="1.0"/>
<path d="M495.51,425.73 L503.01,425.73 L499.26,419.23 Z" fill="none" stroke="#000" stroke-width="1.0"/>
<circle cx="530.52" cy="271.91" r="3.2" fill="#000" stroke="#000" stroke-width="0.4"/>
<rect x="527.52" y="340.13" width="6.0" height="6.0" fill="#000" stroke="#000" stroke-width="0.4"/>
<path d="M526.77,412.82 L534.27,412.82 L530.52,419.32 Z" fill="#000" stroke="#000" stroke-width="0.4"/>
<path d="M526.77,417.16 L534.27,417.16 L530.52,410.66 Z" fill="#000" stroke="#000" stroke-width="0.4"/>
<rect x="548.36" y="375.75" width="6.0" height="6.0" fill="none" stroke="#000" stroke-width="1.0"/>
<circle cx="551.36" cy="378.75" r="3.2" fill="none" stroke="#000" stroke-width="1.0"/>
<path d="M547.61,417.61 L555.11,417.61 L551.36,411.11 Z" fill="none" stroke="#000" stroke-width="1.0"/>
<path d="M547.61,429.98 L555.11,429.98 L551.36,436.48 Z" fill="none" stroke="#000" stroke-width="1.0"/>
<rect x="610.88" y="304.52" width="6.0" height="6.0" fill="#000" stroke="#000" stroke-width="0.4"/>
<circle cx="613.88" cy="342.51" r="3.2" fill="#000" stroke="#000" stroke-width="0.4"/>
<path d="M610.13,417.61 L617.63,417.61 L613.88,411.11 Z" fill="#000" stroke="#000" stroke-width="0.4"/>
<path d="M610.13,430.48 L617.63,430.48 L613.88,436.98 Z" fill="#000" stroke="#000" stroke-width="0.4"/>
<line x1="69.3" y1="31" x2="69.3" y2="73.5" stroke="#444" stroke-width="1.3"/>
<line x1="66.1" y1="31" x2="72.5" y2="31" stroke="#444" stroke-width="1.3"/>
<line x1="66.1" y1="73.5" x2="72.5" y2="73.5" stroke="#444" stroke-width="1.3"/>
<circle cx="69.3" cy="51.9" r="3.3" fill="#c8c8c8" stroke="#444" stroke-width="1.2"/>
<line x1="374.2" y1="30.4" x2="374.2" y2="77.9" stroke="#666" stroke-width="1.3"/>
<line x1="371.0" y1="30.4" x2="377.4" y2="30.4" stroke="#666" stroke-width="1.3"/>
<line x1="371.0" y1="77.9" x2="377.4" y2="77.9" stroke="#666" stroke-width="1.3"/>
<circle cx="374.2" cy="53.5" r="3.3" fill="#c0c0c0" stroke="#555" stroke-width="1.2"/>
<line x1="69.5" y1="291.9" x2="69.5" y2="317.2" stroke="#555" stroke-width="1.3"/>
<line x1="66.3" y1="291.9" x2="72.7" y2="291.9" stroke="#555" stroke-width="1.3"/>
<line x1="66.3" y1="317.2" x2="72.7" y2="317.2" stroke="#555" stroke-width="1.3"/>
<circle cx="69.5" cy="304" r="3.3" fill="#c8c8c8" stroke="#444" stroke-width="1.2"/>
<line x1="363.8" y1="277.3" x2="363.8" y2="336.4" stroke="#777" stroke-width="1.3"/>
<line x1="360.6" y1="277.3" x2="367.0" y2="277.3" stroke="#777" stroke-width="1.3"/>
<line x1="360.6" y1="336.4" x2="367.0" y2="336.4" stroke="#777" stroke-width="1.3"/>
<circle cx="363.8" cy="306.7" r="3.3" fill="#bbb" stroke="#777" stroke-width="1.2"/>
<text x="72.6" y="18.3" class="pl">a</text>
<text x="373" y="18.0" class="pl">b</text>
<text x="73.6" y="282.3" class="pl">c</text>
<text x="373" y="282.3" class="pl">d</text>
</svg>
</body></html>
